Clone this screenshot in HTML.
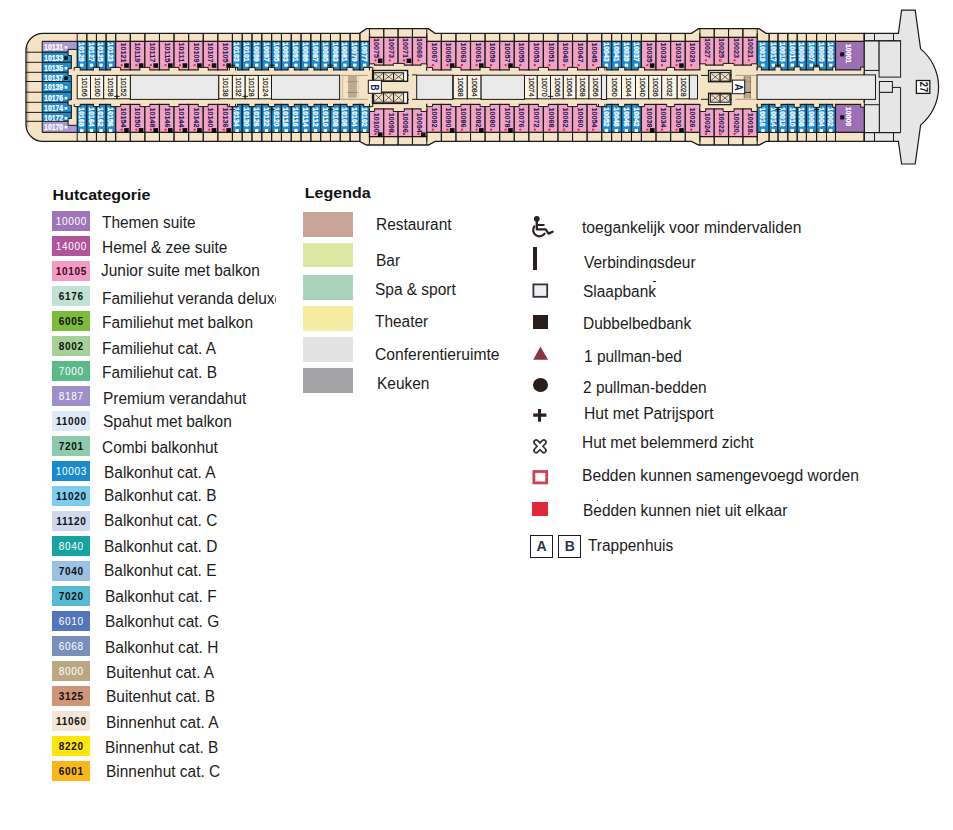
<!DOCTYPE html>
<html><head><meta charset="utf-8"><title>Deck 10</title>
<style>
html,body{margin:0;padding:0;background:#ffffff;}
body{width:953px;height:830px;position:relative;overflow:hidden;font-family:"Liberation Sans", sans-serif;}
</style></head><body>
<svg width="953" height="170" viewBox="0 0 953 170" style="position:absolute;left:0;top:0;font-family:'Liberation Sans',sans-serif"><path d="M 43.0,33.3 L 359.6,33.3 L 366.5,28.6 L 428.5,28.6 L 435,33.3 L 691.5,33.3 L 698.5,28.6 L 759,28.6 L 766,33.3 L 864.3,33.3 L 864.3,141.4 L 766,141.4 L 759,145.0 L 698.5,145.0 L 691.5,141.4 L 435,141.4 L 428.5,145.0 L 366.5,145.0 L 359.6,141.4 L 43.0,141.4 A 17 17 0 0 1 26.0,124.4 L 26.0,50.3 A 17 17 0 0 1 43.0,33.3 Z" fill="#f5e3c6" stroke="#1a1a1a" stroke-width="1.3"/><path d="M 27.8,47.3 L 27.8,127.4" stroke="#7a6a50" stroke-width="0.6"/><path d="M 864.3,33.3 L 898.4,33.3 L 901.6,10.2 L 915.2,10.2 L 920.6,48.9 A 49.3 49.3 0 0 1 920.6,125.1 L 915.2,164 L 901.6,164 L 898.4,141.4 L 864.3,141.4 Z" fill="#e6e6e6" stroke="#1a1a1a" stroke-width="1.2"/><line x1="42.00" y1="41.40" x2="864.30" y2="41.40" stroke="#1a1a1a" stroke-width="1.0"/><line x1="42.00" y1="132.30" x2="864.30" y2="132.30" stroke="#1a1a1a" stroke-width="1.0"/><line x1="77.20" y1="33.30" x2="77.20" y2="41.40" stroke="#1a1a1a" stroke-width="1.0"/><line x1="86.83" y1="33.30" x2="86.83" y2="41.40" stroke="#1a1a1a" stroke-width="1.0"/><line x1="86.83" y1="33.30" x2="86.83" y2="41.40" stroke="#1a1a1a" stroke-width="1.0"/><line x1="96.45" y1="33.30" x2="96.45" y2="41.40" stroke="#1a1a1a" stroke-width="1.0"/><line x1="96.45" y1="33.30" x2="96.45" y2="41.40" stroke="#1a1a1a" stroke-width="1.0"/><line x1="106.08" y1="33.30" x2="106.08" y2="41.40" stroke="#1a1a1a" stroke-width="1.0"/><line x1="106.08" y1="33.30" x2="106.08" y2="41.40" stroke="#1a1a1a" stroke-width="1.0"/><line x1="115.70" y1="33.30" x2="115.70" y2="41.40" stroke="#1a1a1a" stroke-width="1.0"/><line x1="115.70" y1="33.30" x2="115.70" y2="41.40" stroke="#1a1a1a" stroke-width="1.0"/><line x1="130.29" y1="33.30" x2="130.29" y2="41.40" stroke="#1a1a1a" stroke-width="1.0"/><line x1="130.29" y1="33.30" x2="130.29" y2="41.40" stroke="#1a1a1a" stroke-width="1.0"/><line x1="144.88" y1="33.30" x2="144.88" y2="41.40" stroke="#1a1a1a" stroke-width="1.0"/><line x1="144.88" y1="33.30" x2="144.88" y2="41.40" stroke="#1a1a1a" stroke-width="1.0"/><line x1="159.47" y1="33.30" x2="159.47" y2="41.40" stroke="#1a1a1a" stroke-width="1.0"/><line x1="159.47" y1="33.30" x2="159.47" y2="41.40" stroke="#1a1a1a" stroke-width="1.0"/><line x1="174.06" y1="33.30" x2="174.06" y2="41.40" stroke="#1a1a1a" stroke-width="1.0"/><line x1="174.06" y1="33.30" x2="174.06" y2="41.40" stroke="#1a1a1a" stroke-width="1.0"/><line x1="188.65" y1="33.30" x2="188.65" y2="41.40" stroke="#1a1a1a" stroke-width="1.0"/><line x1="188.65" y1="33.30" x2="188.65" y2="41.40" stroke="#1a1a1a" stroke-width="1.0"/><line x1="203.24" y1="33.30" x2="203.24" y2="41.40" stroke="#1a1a1a" stroke-width="1.0"/><line x1="203.24" y1="33.30" x2="203.24" y2="41.40" stroke="#1a1a1a" stroke-width="1.0"/><line x1="217.83" y1="33.30" x2="217.83" y2="41.40" stroke="#1a1a1a" stroke-width="1.0"/><line x1="217.83" y1="33.30" x2="217.83" y2="41.40" stroke="#1a1a1a" stroke-width="1.0"/><line x1="232.42" y1="33.30" x2="232.42" y2="41.40" stroke="#1a1a1a" stroke-width="1.0"/><line x1="232.40" y1="33.30" x2="232.40" y2="41.40" stroke="#1a1a1a" stroke-width="1.0"/><line x1="242.21" y1="33.30" x2="242.21" y2="41.40" stroke="#1a1a1a" stroke-width="1.0"/><line x1="242.21" y1="33.30" x2="242.21" y2="41.40" stroke="#1a1a1a" stroke-width="1.0"/><line x1="252.01" y1="33.30" x2="252.01" y2="41.40" stroke="#1a1a1a" stroke-width="1.0"/><line x1="252.01" y1="33.30" x2="252.01" y2="41.40" stroke="#1a1a1a" stroke-width="1.0"/><line x1="261.82" y1="33.30" x2="261.82" y2="41.40" stroke="#1a1a1a" stroke-width="1.0"/><line x1="261.82" y1="33.30" x2="261.82" y2="41.40" stroke="#1a1a1a" stroke-width="1.0"/><line x1="271.63" y1="33.30" x2="271.63" y2="41.40" stroke="#1a1a1a" stroke-width="1.0"/><line x1="271.63" y1="33.30" x2="271.63" y2="41.40" stroke="#1a1a1a" stroke-width="1.0"/><line x1="281.44" y1="33.30" x2="281.44" y2="41.40" stroke="#1a1a1a" stroke-width="1.0"/><line x1="281.44" y1="33.30" x2="281.44" y2="41.40" stroke="#1a1a1a" stroke-width="1.0"/><line x1="291.24" y1="33.30" x2="291.24" y2="41.40" stroke="#1a1a1a" stroke-width="1.0"/><line x1="291.24" y1="33.30" x2="291.24" y2="41.40" stroke="#1a1a1a" stroke-width="1.0"/><line x1="301.05" y1="33.30" x2="301.05" y2="41.40" stroke="#1a1a1a" stroke-width="1.0"/><line x1="301.05" y1="33.30" x2="301.05" y2="41.40" stroke="#1a1a1a" stroke-width="1.0"/><line x1="310.86" y1="33.30" x2="310.86" y2="41.40" stroke="#1a1a1a" stroke-width="1.0"/><line x1="310.86" y1="33.30" x2="310.86" y2="41.40" stroke="#1a1a1a" stroke-width="1.0"/><line x1="320.66" y1="33.30" x2="320.66" y2="41.40" stroke="#1a1a1a" stroke-width="1.0"/><line x1="320.66" y1="33.30" x2="320.66" y2="41.40" stroke="#1a1a1a" stroke-width="1.0"/><line x1="330.47" y1="33.30" x2="330.47" y2="41.40" stroke="#1a1a1a" stroke-width="1.0"/><line x1="330.47" y1="33.30" x2="330.47" y2="41.40" stroke="#1a1a1a" stroke-width="1.0"/><line x1="340.28" y1="33.30" x2="340.28" y2="41.40" stroke="#1a1a1a" stroke-width="1.0"/><line x1="340.28" y1="33.30" x2="340.28" y2="41.40" stroke="#1a1a1a" stroke-width="1.0"/><line x1="350.08" y1="33.30" x2="350.08" y2="41.40" stroke="#1a1a1a" stroke-width="1.0"/><line x1="350.08" y1="33.30" x2="350.08" y2="41.40" stroke="#1a1a1a" stroke-width="1.0"/><line x1="359.89" y1="33.30" x2="359.89" y2="41.40" stroke="#1a1a1a" stroke-width="1.0"/><line x1="359.89" y1="33.30" x2="359.89" y2="41.40" stroke="#1a1a1a" stroke-width="1.0"/><line x1="369.70" y1="33.30" x2="369.70" y2="41.40" stroke="#1a1a1a" stroke-width="1.0"/><line x1="369.40" y1="28.60" x2="369.40" y2="37.40" stroke="#1a1a1a" stroke-width="1.0"/><line x1="383.75" y1="28.60" x2="383.75" y2="37.40" stroke="#1a1a1a" stroke-width="1.0"/><line x1="383.75" y1="28.60" x2="383.75" y2="37.40" stroke="#1a1a1a" stroke-width="1.0"/><line x1="398.10" y1="28.60" x2="398.10" y2="37.40" stroke="#1a1a1a" stroke-width="1.0"/><line x1="398.10" y1="28.60" x2="398.10" y2="37.40" stroke="#1a1a1a" stroke-width="1.0"/><line x1="412.45" y1="28.60" x2="412.45" y2="37.40" stroke="#1a1a1a" stroke-width="1.0"/><line x1="412.45" y1="28.60" x2="412.45" y2="37.40" stroke="#1a1a1a" stroke-width="1.0"/><line x1="426.80" y1="28.60" x2="426.80" y2="37.40" stroke="#1a1a1a" stroke-width="1.0"/><line x1="426.80" y1="33.30" x2="426.80" y2="41.40" stroke="#1a1a1a" stroke-width="1.0"/><line x1="441.38" y1="33.30" x2="441.38" y2="41.40" stroke="#1a1a1a" stroke-width="1.0"/><line x1="441.38" y1="33.30" x2="441.38" y2="41.40" stroke="#1a1a1a" stroke-width="1.0"/><line x1="455.95" y1="33.30" x2="455.95" y2="41.40" stroke="#1a1a1a" stroke-width="1.0"/><line x1="455.95" y1="33.30" x2="455.95" y2="41.40" stroke="#1a1a1a" stroke-width="1.0"/><line x1="470.52" y1="33.30" x2="470.52" y2="41.40" stroke="#1a1a1a" stroke-width="1.0"/><line x1="470.52" y1="33.30" x2="470.52" y2="41.40" stroke="#1a1a1a" stroke-width="1.0"/><line x1="485.10" y1="33.30" x2="485.10" y2="41.40" stroke="#1a1a1a" stroke-width="1.0"/><line x1="485.10" y1="33.30" x2="485.10" y2="41.40" stroke="#1a1a1a" stroke-width="1.0"/><line x1="499.68" y1="33.30" x2="499.68" y2="41.40" stroke="#1a1a1a" stroke-width="1.0"/><line x1="499.68" y1="33.30" x2="499.68" y2="41.40" stroke="#1a1a1a" stroke-width="1.0"/><line x1="514.25" y1="33.30" x2="514.25" y2="41.40" stroke="#1a1a1a" stroke-width="1.0"/><line x1="514.25" y1="33.30" x2="514.25" y2="41.40" stroke="#1a1a1a" stroke-width="1.0"/><line x1="528.83" y1="33.30" x2="528.83" y2="41.40" stroke="#1a1a1a" stroke-width="1.0"/><line x1="528.83" y1="33.30" x2="528.83" y2="41.40" stroke="#1a1a1a" stroke-width="1.0"/><line x1="543.40" y1="33.30" x2="543.40" y2="41.40" stroke="#1a1a1a" stroke-width="1.0"/><line x1="543.40" y1="33.30" x2="543.40" y2="41.40" stroke="#1a1a1a" stroke-width="1.0"/><line x1="557.98" y1="33.30" x2="557.98" y2="41.40" stroke="#1a1a1a" stroke-width="1.0"/><line x1="557.98" y1="33.30" x2="557.98" y2="41.40" stroke="#1a1a1a" stroke-width="1.0"/><line x1="572.55" y1="33.30" x2="572.55" y2="41.40" stroke="#1a1a1a" stroke-width="1.0"/><line x1="572.55" y1="33.30" x2="572.55" y2="41.40" stroke="#1a1a1a" stroke-width="1.0"/><line x1="587.12" y1="33.30" x2="587.12" y2="41.40" stroke="#1a1a1a" stroke-width="1.0"/><line x1="587.12" y1="33.30" x2="587.12" y2="41.40" stroke="#1a1a1a" stroke-width="1.0"/><line x1="601.70" y1="33.30" x2="601.70" y2="41.40" stroke="#1a1a1a" stroke-width="1.0"/><line x1="601.70" y1="33.30" x2="601.70" y2="41.40" stroke="#1a1a1a" stroke-width="1.0"/><line x1="611.62" y1="33.30" x2="611.62" y2="41.40" stroke="#1a1a1a" stroke-width="1.0"/><line x1="611.62" y1="33.30" x2="611.62" y2="41.40" stroke="#1a1a1a" stroke-width="1.0"/><line x1="621.55" y1="33.30" x2="621.55" y2="41.40" stroke="#1a1a1a" stroke-width="1.0"/><line x1="621.55" y1="33.30" x2="621.55" y2="41.40" stroke="#1a1a1a" stroke-width="1.0"/><line x1="631.48" y1="33.30" x2="631.48" y2="41.40" stroke="#1a1a1a" stroke-width="1.0"/><line x1="631.48" y1="33.30" x2="631.48" y2="41.40" stroke="#1a1a1a" stroke-width="1.0"/><line x1="641.40" y1="33.30" x2="641.40" y2="41.40" stroke="#1a1a1a" stroke-width="1.0"/><line x1="641.40" y1="33.30" x2="641.40" y2="41.40" stroke="#1a1a1a" stroke-width="1.0"/><line x1="656.02" y1="33.30" x2="656.02" y2="41.40" stroke="#1a1a1a" stroke-width="1.0"/><line x1="656.02" y1="33.30" x2="656.02" y2="41.40" stroke="#1a1a1a" stroke-width="1.0"/><line x1="670.65" y1="33.30" x2="670.65" y2="41.40" stroke="#1a1a1a" stroke-width="1.0"/><line x1="670.65" y1="33.30" x2="670.65" y2="41.40" stroke="#1a1a1a" stroke-width="1.0"/><line x1="685.27" y1="33.30" x2="685.27" y2="41.40" stroke="#1a1a1a" stroke-width="1.0"/><line x1="685.27" y1="33.30" x2="685.27" y2="41.40" stroke="#1a1a1a" stroke-width="1.0"/><line x1="699.90" y1="33.30" x2="699.90" y2="41.40" stroke="#1a1a1a" stroke-width="1.0"/><line x1="699.90" y1="28.60" x2="699.90" y2="37.40" stroke="#1a1a1a" stroke-width="1.0"/><line x1="714.23" y1="28.60" x2="714.23" y2="37.40" stroke="#1a1a1a" stroke-width="1.0"/><line x1="714.23" y1="28.60" x2="714.23" y2="37.40" stroke="#1a1a1a" stroke-width="1.0"/><line x1="728.55" y1="28.60" x2="728.55" y2="37.40" stroke="#1a1a1a" stroke-width="1.0"/><line x1="728.55" y1="28.60" x2="728.55" y2="37.40" stroke="#1a1a1a" stroke-width="1.0"/><line x1="742.88" y1="28.60" x2="742.88" y2="37.40" stroke="#1a1a1a" stroke-width="1.0"/><line x1="742.88" y1="28.60" x2="742.88" y2="37.40" stroke="#1a1a1a" stroke-width="1.0"/><line x1="757.20" y1="28.60" x2="757.20" y2="37.40" stroke="#1a1a1a" stroke-width="1.0"/><line x1="757.20" y1="33.30" x2="757.20" y2="41.40" stroke="#1a1a1a" stroke-width="1.0"/><line x1="769.10" y1="33.30" x2="769.10" y2="41.40" stroke="#1a1a1a" stroke-width="1.0"/><line x1="769.10" y1="33.30" x2="769.10" y2="41.40" stroke="#1a1a1a" stroke-width="1.0"/><line x1="778.00" y1="33.30" x2="778.00" y2="41.40" stroke="#1a1a1a" stroke-width="1.0"/><line x1="778.00" y1="33.30" x2="778.00" y2="41.40" stroke="#1a1a1a" stroke-width="1.0"/><line x1="787.80" y1="33.30" x2="787.80" y2="41.40" stroke="#1a1a1a" stroke-width="1.0"/><line x1="787.80" y1="33.30" x2="787.80" y2="41.40" stroke="#1a1a1a" stroke-width="1.0"/><line x1="797.20" y1="33.30" x2="797.20" y2="41.40" stroke="#1a1a1a" stroke-width="1.0"/><line x1="797.20" y1="33.30" x2="797.20" y2="41.40" stroke="#1a1a1a" stroke-width="1.0"/><line x1="806.40" y1="33.30" x2="806.40" y2="41.40" stroke="#1a1a1a" stroke-width="1.0"/><line x1="806.40" y1="33.30" x2="806.40" y2="41.40" stroke="#1a1a1a" stroke-width="1.0"/><line x1="816.60" y1="33.30" x2="816.60" y2="41.40" stroke="#1a1a1a" stroke-width="1.0"/><line x1="816.60" y1="33.30" x2="816.60" y2="41.40" stroke="#1a1a1a" stroke-width="1.0"/><line x1="826.50" y1="33.30" x2="826.50" y2="41.40" stroke="#1a1a1a" stroke-width="1.0"/><line x1="826.50" y1="33.30" x2="826.50" y2="41.40" stroke="#1a1a1a" stroke-width="1.0"/><line x1="835.50" y1="33.30" x2="835.50" y2="41.40" stroke="#1a1a1a" stroke-width="1.0"/><line x1="835.50" y1="33.30" x2="835.50" y2="41.40" stroke="#1a1a1a" stroke-width="1.0"/><line x1="864.30" y1="33.30" x2="864.30" y2="41.40" stroke="#1a1a1a" stroke-width="1.0"/><line x1="77.20" y1="132.30" x2="77.20" y2="141.40" stroke="#1a1a1a" stroke-width="1.0"/><line x1="86.83" y1="132.30" x2="86.83" y2="141.40" stroke="#1a1a1a" stroke-width="1.0"/><line x1="86.83" y1="132.30" x2="86.83" y2="141.40" stroke="#1a1a1a" stroke-width="1.0"/><line x1="96.45" y1="132.30" x2="96.45" y2="141.40" stroke="#1a1a1a" stroke-width="1.0"/><line x1="96.45" y1="132.30" x2="96.45" y2="141.40" stroke="#1a1a1a" stroke-width="1.0"/><line x1="106.08" y1="132.30" x2="106.08" y2="141.40" stroke="#1a1a1a" stroke-width="1.0"/><line x1="106.08" y1="132.30" x2="106.08" y2="141.40" stroke="#1a1a1a" stroke-width="1.0"/><line x1="115.70" y1="132.30" x2="115.70" y2="141.40" stroke="#1a1a1a" stroke-width="1.0"/><line x1="115.70" y1="132.30" x2="115.70" y2="141.40" stroke="#1a1a1a" stroke-width="1.0"/><line x1="130.29" y1="132.30" x2="130.29" y2="141.40" stroke="#1a1a1a" stroke-width="1.0"/><line x1="130.29" y1="132.30" x2="130.29" y2="141.40" stroke="#1a1a1a" stroke-width="1.0"/><line x1="144.88" y1="132.30" x2="144.88" y2="141.40" stroke="#1a1a1a" stroke-width="1.0"/><line x1="144.88" y1="132.30" x2="144.88" y2="141.40" stroke="#1a1a1a" stroke-width="1.0"/><line x1="159.47" y1="132.30" x2="159.47" y2="141.40" stroke="#1a1a1a" stroke-width="1.0"/><line x1="159.47" y1="132.30" x2="159.47" y2="141.40" stroke="#1a1a1a" stroke-width="1.0"/><line x1="174.06" y1="132.30" x2="174.06" y2="141.40" stroke="#1a1a1a" stroke-width="1.0"/><line x1="174.06" y1="132.30" x2="174.06" y2="141.40" stroke="#1a1a1a" stroke-width="1.0"/><line x1="188.65" y1="132.30" x2="188.65" y2="141.40" stroke="#1a1a1a" stroke-width="1.0"/><line x1="188.65" y1="132.30" x2="188.65" y2="141.40" stroke="#1a1a1a" stroke-width="1.0"/><line x1="203.24" y1="132.30" x2="203.24" y2="141.40" stroke="#1a1a1a" stroke-width="1.0"/><line x1="203.24" y1="132.30" x2="203.24" y2="141.40" stroke="#1a1a1a" stroke-width="1.0"/><line x1="217.83" y1="132.30" x2="217.83" y2="141.40" stroke="#1a1a1a" stroke-width="1.0"/><line x1="217.83" y1="132.30" x2="217.83" y2="141.40" stroke="#1a1a1a" stroke-width="1.0"/><line x1="232.42" y1="132.30" x2="232.42" y2="141.40" stroke="#1a1a1a" stroke-width="1.0"/><line x1="232.40" y1="132.30" x2="232.40" y2="141.40" stroke="#1a1a1a" stroke-width="1.0"/><line x1="242.21" y1="132.30" x2="242.21" y2="141.40" stroke="#1a1a1a" stroke-width="1.0"/><line x1="242.21" y1="132.30" x2="242.21" y2="141.40" stroke="#1a1a1a" stroke-width="1.0"/><line x1="252.01" y1="132.30" x2="252.01" y2="141.40" stroke="#1a1a1a" stroke-width="1.0"/><line x1="252.01" y1="132.30" x2="252.01" y2="141.40" stroke="#1a1a1a" stroke-width="1.0"/><line x1="261.82" y1="132.30" x2="261.82" y2="141.40" stroke="#1a1a1a" stroke-width="1.0"/><line x1="261.82" y1="132.30" x2="261.82" y2="141.40" stroke="#1a1a1a" stroke-width="1.0"/><line x1="271.63" y1="132.30" x2="271.63" y2="141.40" stroke="#1a1a1a" stroke-width="1.0"/><line x1="271.63" y1="132.30" x2="271.63" y2="141.40" stroke="#1a1a1a" stroke-width="1.0"/><line x1="281.44" y1="132.30" x2="281.44" y2="141.40" stroke="#1a1a1a" stroke-width="1.0"/><line x1="281.44" y1="132.30" x2="281.44" y2="141.40" stroke="#1a1a1a" stroke-width="1.0"/><line x1="291.24" y1="132.30" x2="291.24" y2="141.40" stroke="#1a1a1a" stroke-width="1.0"/><line x1="291.24" y1="132.30" x2="291.24" y2="141.40" stroke="#1a1a1a" stroke-width="1.0"/><line x1="301.05" y1="132.30" x2="301.05" y2="141.40" stroke="#1a1a1a" stroke-width="1.0"/><line x1="301.05" y1="132.30" x2="301.05" y2="141.40" stroke="#1a1a1a" stroke-width="1.0"/><line x1="310.86" y1="132.30" x2="310.86" y2="141.40" stroke="#1a1a1a" stroke-width="1.0"/><line x1="310.86" y1="132.30" x2="310.86" y2="141.40" stroke="#1a1a1a" stroke-width="1.0"/><line x1="320.66" y1="132.30" x2="320.66" y2="141.40" stroke="#1a1a1a" stroke-width="1.0"/><line x1="320.66" y1="132.30" x2="320.66" y2="141.40" stroke="#1a1a1a" stroke-width="1.0"/><line x1="330.47" y1="132.30" x2="330.47" y2="141.40" stroke="#1a1a1a" stroke-width="1.0"/><line x1="330.47" y1="132.30" x2="330.47" y2="141.40" stroke="#1a1a1a" stroke-width="1.0"/><line x1="340.28" y1="132.30" x2="340.28" y2="141.40" stroke="#1a1a1a" stroke-width="1.0"/><line x1="340.28" y1="132.30" x2="340.28" y2="141.40" stroke="#1a1a1a" stroke-width="1.0"/><line x1="350.08" y1="132.30" x2="350.08" y2="141.40" stroke="#1a1a1a" stroke-width="1.0"/><line x1="350.08" y1="132.30" x2="350.08" y2="141.40" stroke="#1a1a1a" stroke-width="1.0"/><line x1="359.89" y1="132.30" x2="359.89" y2="141.40" stroke="#1a1a1a" stroke-width="1.0"/><line x1="359.89" y1="132.30" x2="359.89" y2="141.40" stroke="#1a1a1a" stroke-width="1.0"/><line x1="369.70" y1="132.30" x2="369.70" y2="141.40" stroke="#1a1a1a" stroke-width="1.0"/><line x1="369.40" y1="136.60" x2="369.40" y2="145.00" stroke="#1a1a1a" stroke-width="1.0"/><line x1="383.75" y1="136.60" x2="383.75" y2="145.00" stroke="#1a1a1a" stroke-width="1.0"/><line x1="383.75" y1="136.60" x2="383.75" y2="145.00" stroke="#1a1a1a" stroke-width="1.0"/><line x1="398.10" y1="136.60" x2="398.10" y2="145.00" stroke="#1a1a1a" stroke-width="1.0"/><line x1="398.10" y1="136.60" x2="398.10" y2="145.00" stroke="#1a1a1a" stroke-width="1.0"/><line x1="412.45" y1="136.60" x2="412.45" y2="145.00" stroke="#1a1a1a" stroke-width="1.0"/><line x1="412.45" y1="136.60" x2="412.45" y2="145.00" stroke="#1a1a1a" stroke-width="1.0"/><line x1="426.80" y1="136.60" x2="426.80" y2="145.00" stroke="#1a1a1a" stroke-width="1.0"/><line x1="426.80" y1="132.30" x2="426.80" y2="141.40" stroke="#1a1a1a" stroke-width="1.0"/><line x1="441.38" y1="132.30" x2="441.38" y2="141.40" stroke="#1a1a1a" stroke-width="1.0"/><line x1="441.38" y1="132.30" x2="441.38" y2="141.40" stroke="#1a1a1a" stroke-width="1.0"/><line x1="455.95" y1="132.30" x2="455.95" y2="141.40" stroke="#1a1a1a" stroke-width="1.0"/><line x1="455.95" y1="132.30" x2="455.95" y2="141.40" stroke="#1a1a1a" stroke-width="1.0"/><line x1="470.52" y1="132.30" x2="470.52" y2="141.40" stroke="#1a1a1a" stroke-width="1.0"/><line x1="470.52" y1="132.30" x2="470.52" y2="141.40" stroke="#1a1a1a" stroke-width="1.0"/><line x1="485.10" y1="132.30" x2="485.10" y2="141.40" stroke="#1a1a1a" stroke-width="1.0"/><line x1="485.10" y1="132.30" x2="485.10" y2="141.40" stroke="#1a1a1a" stroke-width="1.0"/><line x1="499.68" y1="132.30" x2="499.68" y2="141.40" stroke="#1a1a1a" stroke-width="1.0"/><line x1="499.68" y1="132.30" x2="499.68" y2="141.40" stroke="#1a1a1a" stroke-width="1.0"/><line x1="514.25" y1="132.30" x2="514.25" y2="141.40" stroke="#1a1a1a" stroke-width="1.0"/><line x1="514.25" y1="132.30" x2="514.25" y2="141.40" stroke="#1a1a1a" stroke-width="1.0"/><line x1="528.83" y1="132.30" x2="528.83" y2="141.40" stroke="#1a1a1a" stroke-width="1.0"/><line x1="528.83" y1="132.30" x2="528.83" y2="141.40" stroke="#1a1a1a" stroke-width="1.0"/><line x1="543.40" y1="132.30" x2="543.40" y2="141.40" stroke="#1a1a1a" stroke-width="1.0"/><line x1="543.40" y1="132.30" x2="543.40" y2="141.40" stroke="#1a1a1a" stroke-width="1.0"/><line x1="557.98" y1="132.30" x2="557.98" y2="141.40" stroke="#1a1a1a" stroke-width="1.0"/><line x1="557.98" y1="132.30" x2="557.98" y2="141.40" stroke="#1a1a1a" stroke-width="1.0"/><line x1="572.55" y1="132.30" x2="572.55" y2="141.40" stroke="#1a1a1a" stroke-width="1.0"/><line x1="572.55" y1="132.30" x2="572.55" y2="141.40" stroke="#1a1a1a" stroke-width="1.0"/><line x1="587.12" y1="132.30" x2="587.12" y2="141.40" stroke="#1a1a1a" stroke-width="1.0"/><line x1="587.12" y1="132.30" x2="587.12" y2="141.40" stroke="#1a1a1a" stroke-width="1.0"/><line x1="601.70" y1="132.30" x2="601.70" y2="141.40" stroke="#1a1a1a" stroke-width="1.0"/><line x1="601.70" y1="132.30" x2="601.70" y2="141.40" stroke="#1a1a1a" stroke-width="1.0"/><line x1="611.62" y1="132.30" x2="611.62" y2="141.40" stroke="#1a1a1a" stroke-width="1.0"/><line x1="611.62" y1="132.30" x2="611.62" y2="141.40" stroke="#1a1a1a" stroke-width="1.0"/><line x1="621.55" y1="132.30" x2="621.55" y2="141.40" stroke="#1a1a1a" stroke-width="1.0"/><line x1="621.55" y1="132.30" x2="621.55" y2="141.40" stroke="#1a1a1a" stroke-width="1.0"/><line x1="631.48" y1="132.30" x2="631.48" y2="141.40" stroke="#1a1a1a" stroke-width="1.0"/><line x1="631.48" y1="132.30" x2="631.48" y2="141.40" stroke="#1a1a1a" stroke-width="1.0"/><line x1="641.40" y1="132.30" x2="641.40" y2="141.40" stroke="#1a1a1a" stroke-width="1.0"/><line x1="641.40" y1="132.30" x2="641.40" y2="141.40" stroke="#1a1a1a" stroke-width="1.0"/><line x1="656.02" y1="132.30" x2="656.02" y2="141.40" stroke="#1a1a1a" stroke-width="1.0"/><line x1="656.02" y1="132.30" x2="656.02" y2="141.40" stroke="#1a1a1a" stroke-width="1.0"/><line x1="670.65" y1="132.30" x2="670.65" y2="141.40" stroke="#1a1a1a" stroke-width="1.0"/><line x1="670.65" y1="132.30" x2="670.65" y2="141.40" stroke="#1a1a1a" stroke-width="1.0"/><line x1="685.27" y1="132.30" x2="685.27" y2="141.40" stroke="#1a1a1a" stroke-width="1.0"/><line x1="685.27" y1="132.30" x2="685.27" y2="141.40" stroke="#1a1a1a" stroke-width="1.0"/><line x1="699.90" y1="132.30" x2="699.90" y2="141.40" stroke="#1a1a1a" stroke-width="1.0"/><line x1="699.90" y1="136.60" x2="699.90" y2="145.00" stroke="#1a1a1a" stroke-width="1.0"/><line x1="714.23" y1="136.60" x2="714.23" y2="145.00" stroke="#1a1a1a" stroke-width="1.0"/><line x1="714.23" y1="136.60" x2="714.23" y2="145.00" stroke="#1a1a1a" stroke-width="1.0"/><line x1="728.55" y1="136.60" x2="728.55" y2="145.00" stroke="#1a1a1a" stroke-width="1.0"/><line x1="728.55" y1="136.60" x2="728.55" y2="145.00" stroke="#1a1a1a" stroke-width="1.0"/><line x1="742.88" y1="136.60" x2="742.88" y2="145.00" stroke="#1a1a1a" stroke-width="1.0"/><line x1="742.88" y1="136.60" x2="742.88" y2="145.00" stroke="#1a1a1a" stroke-width="1.0"/><line x1="757.20" y1="136.60" x2="757.20" y2="145.00" stroke="#1a1a1a" stroke-width="1.0"/><line x1="757.20" y1="132.30" x2="757.20" y2="141.40" stroke="#1a1a1a" stroke-width="1.0"/><line x1="769.10" y1="132.30" x2="769.10" y2="141.40" stroke="#1a1a1a" stroke-width="1.0"/><line x1="769.10" y1="132.30" x2="769.10" y2="141.40" stroke="#1a1a1a" stroke-width="1.0"/><line x1="778.00" y1="132.30" x2="778.00" y2="141.40" stroke="#1a1a1a" stroke-width="1.0"/><line x1="778.00" y1="132.30" x2="778.00" y2="141.40" stroke="#1a1a1a" stroke-width="1.0"/><line x1="787.80" y1="132.30" x2="787.80" y2="141.40" stroke="#1a1a1a" stroke-width="1.0"/><line x1="787.80" y1="132.30" x2="787.80" y2="141.40" stroke="#1a1a1a" stroke-width="1.0"/><line x1="797.20" y1="132.30" x2="797.20" y2="141.40" stroke="#1a1a1a" stroke-width="1.0"/><line x1="797.20" y1="132.30" x2="797.20" y2="141.40" stroke="#1a1a1a" stroke-width="1.0"/><line x1="806.40" y1="132.30" x2="806.40" y2="141.40" stroke="#1a1a1a" stroke-width="1.0"/><line x1="806.40" y1="132.30" x2="806.40" y2="141.40" stroke="#1a1a1a" stroke-width="1.0"/><line x1="816.60" y1="132.30" x2="816.60" y2="141.40" stroke="#1a1a1a" stroke-width="1.0"/><line x1="816.60" y1="132.30" x2="816.60" y2="141.40" stroke="#1a1a1a" stroke-width="1.0"/><line x1="826.50" y1="132.30" x2="826.50" y2="141.40" stroke="#1a1a1a" stroke-width="1.0"/><line x1="826.50" y1="132.30" x2="826.50" y2="141.40" stroke="#1a1a1a" stroke-width="1.0"/><line x1="835.50" y1="132.30" x2="835.50" y2="141.40" stroke="#1a1a1a" stroke-width="1.0"/><line x1="835.50" y1="132.30" x2="835.50" y2="141.40" stroke="#1a1a1a" stroke-width="1.0"/><line x1="864.30" y1="132.30" x2="864.30" y2="141.40" stroke="#1a1a1a" stroke-width="1.0"/><line x1="369.40" y1="37.40" x2="426.80" y2="37.40" stroke="#1a1a1a" stroke-width="1.0"/><line x1="699.90" y1="37.40" x2="757.20" y2="37.40" stroke="#1a1a1a" stroke-width="1.0"/><line x1="369.40" y1="136.60" x2="426.80" y2="136.60" stroke="#1a1a1a" stroke-width="1.0"/><line x1="699.90" y1="136.60" x2="757.20" y2="136.60" stroke="#1a1a1a" stroke-width="1.0"/><rect x="77.20" y="41.40" width="9.62" height="28.50" fill="#1b8bcc" stroke="#1a1a1a" stroke-width="1.2" /><text transform="translate(81.81,42.30) rotate(90) scale(1.12,1)" x="0" y="0" dy="0.355em" textLength="17.32" lengthAdjust="spacingAndGlyphs" font-size="7.5" font-weight="bold" fill="#ffffff" stroke="#ffffff" stroke-width="0.3">10129</text><rect x="80.11" y="63.60" width="3.40" height="3.10" fill="#f4f8ff"/><rect x="86.83" y="41.40" width="9.62" height="28.50" fill="#1b8bcc" stroke="#1a1a1a" stroke-width="1.2" /><text transform="translate(91.44,42.30) rotate(90) scale(1.12,1)" x="0" y="0" dy="0.355em" textLength="17.32" lengthAdjust="spacingAndGlyphs" font-size="7.5" font-weight="bold" fill="#ffffff" stroke="#ffffff" stroke-width="0.3">10127</text><rect x="89.74" y="63.60" width="3.40" height="3.10" fill="#f4f8ff"/><rect x="96.45" y="41.40" width="9.62" height="28.50" fill="#1b8bcc" stroke="#1a1a1a" stroke-width="1.2" /><text transform="translate(101.06,42.30) rotate(90) scale(1.12,1)" x="0" y="0" dy="0.355em" textLength="17.32" lengthAdjust="spacingAndGlyphs" font-size="7.5" font-weight="bold" fill="#ffffff" stroke="#ffffff" stroke-width="0.3">10125</text><rect x="99.36" y="63.60" width="3.40" height="3.10" fill="#f4f8ff"/><rect x="106.08" y="41.40" width="9.62" height="28.50" fill="#1b8bcc" stroke="#1a1a1a" stroke-width="1.2" /><text transform="translate(110.69,42.30) rotate(90) scale(1.12,1)" x="0" y="0" dy="0.355em" textLength="17.32" lengthAdjust="spacingAndGlyphs" font-size="7.5" font-weight="bold" fill="#ffffff" stroke="#ffffff" stroke-width="0.3">10123</text><rect x="108.99" y="63.60" width="3.40" height="3.10" fill="#f4f8ff"/><rect x="115.70" y="41.40" width="14.59" height="28.50" fill="#f1a3c6" stroke="#1a1a1a" stroke-width="1.2" /><text transform="translate(123.40,42.40) rotate(90) scale(1.12,1)" x="0" y="0" dy="0.355em" textLength="17.86" lengthAdjust="spacingAndGlyphs" font-size="7.2" font-weight="bold" fill="#2a1a55" stroke="#2a1a55" stroke-width="0.12">10121</text><rect x="120.70" y="64.20" width="2.00" height="1.90" fill="#e0202c"/><rect x="124.20" y="63.30" width="4.60" height="4.50" fill="#0a0a0a"/><rect x="130.29" y="41.40" width="14.59" height="28.50" fill="#f1a3c6" stroke="#1a1a1a" stroke-width="1.2" /><text transform="translate(137.98,42.40) rotate(90) scale(1.12,1)" x="0" y="0" dy="0.355em" textLength="17.86" lengthAdjust="spacingAndGlyphs" font-size="7.2" font-weight="bold" fill="#2a1a55" stroke="#2a1a55" stroke-width="0.12">10119</text><rect x="135.29" y="64.20" width="2.00" height="1.90" fill="#e0202c"/><rect x="138.79" y="63.30" width="4.60" height="4.50" fill="#0a0a0a"/><rect x="144.88" y="41.40" width="14.59" height="28.50" fill="#f1a3c6" stroke="#1a1a1a" stroke-width="1.2" /><text transform="translate(152.58,42.40) rotate(90) scale(1.12,1)" x="0" y="0" dy="0.355em" textLength="17.86" lengthAdjust="spacingAndGlyphs" font-size="7.2" font-weight="bold" fill="#2a1a55" stroke="#2a1a55" stroke-width="0.12">10117</text><rect x="149.88" y="64.20" width="2.00" height="1.90" fill="#e0202c"/><rect x="153.38" y="63.30" width="4.60" height="4.50" fill="#0a0a0a"/><rect x="159.47" y="41.40" width="14.59" height="28.50" fill="#f1a3c6" stroke="#1a1a1a" stroke-width="1.2" /><text transform="translate(167.16,42.40) rotate(90) scale(1.12,1)" x="0" y="0" dy="0.355em" textLength="17.86" lengthAdjust="spacingAndGlyphs" font-size="7.2" font-weight="bold" fill="#2a1a55" stroke="#2a1a55" stroke-width="0.12">10115</text><rect x="164.47" y="64.20" width="2.00" height="1.90" fill="#e0202c"/><rect x="167.97" y="63.30" width="4.60" height="4.50" fill="#0a0a0a"/><rect x="174.06" y="41.40" width="14.59" height="28.50" fill="#f1a3c6" stroke="#1a1a1a" stroke-width="1.2" /><text transform="translate(181.76,42.40) rotate(90) scale(1.12,1)" x="0" y="0" dy="0.355em" textLength="17.86" lengthAdjust="spacingAndGlyphs" font-size="7.2" font-weight="bold" fill="#2a1a55" stroke="#2a1a55" stroke-width="0.12">10111</text><rect x="179.06" y="64.20" width="2.00" height="1.90" fill="#e0202c"/><rect x="182.56" y="63.30" width="4.60" height="4.50" fill="#0a0a0a"/><rect x="188.65" y="41.40" width="14.59" height="28.50" fill="#f1a3c6" stroke="#1a1a1a" stroke-width="1.2" /><text transform="translate(196.34,42.40) rotate(90) scale(1.12,1)" x="0" y="0" dy="0.355em" textLength="17.86" lengthAdjust="spacingAndGlyphs" font-size="7.2" font-weight="bold" fill="#2a1a55" stroke="#2a1a55" stroke-width="0.12">10109</text><rect x="193.65" y="64.20" width="2.00" height="1.90" fill="#e0202c"/><rect x="197.15" y="63.30" width="4.60" height="4.50" fill="#0a0a0a"/><rect x="203.24" y="41.40" width="14.59" height="28.50" fill="#f1a3c6" stroke="#1a1a1a" stroke-width="1.2" /><text transform="translate(210.94,42.40) rotate(90) scale(1.12,1)" x="0" y="0" dy="0.355em" textLength="17.86" lengthAdjust="spacingAndGlyphs" font-size="7.2" font-weight="bold" fill="#2a1a55" stroke="#2a1a55" stroke-width="0.12">10107</text><rect x="208.24" y="64.20" width="2.00" height="1.90" fill="#e0202c"/><rect x="211.74" y="63.30" width="4.60" height="4.50" fill="#0a0a0a"/><rect x="217.83" y="41.40" width="14.59" height="28.50" fill="#f1a3c6" stroke="#1a1a1a" stroke-width="1.2" /><text transform="translate(225.53,42.40) rotate(90) scale(1.12,1)" x="0" y="0" dy="0.355em" textLength="17.86" lengthAdjust="spacingAndGlyphs" font-size="7.2" font-weight="bold" fill="#2a1a55" stroke="#2a1a55" stroke-width="0.12">10105</text><rect x="222.83" y="64.20" width="2.00" height="1.90" fill="#e0202c"/><rect x="226.33" y="63.30" width="4.60" height="4.50" fill="#0a0a0a"/><rect x="232.40" y="41.40" width="9.81" height="28.50" fill="#1b8bcc" stroke="#1a1a1a" stroke-width="1.2" /><text transform="translate(237.10,42.30) rotate(90) scale(1.12,1)" x="0" y="0" dy="0.355em" textLength="17.32" lengthAdjust="spacingAndGlyphs" font-size="7.5" font-weight="bold" fill="#ffffff" stroke="#ffffff" stroke-width="0.3">10103</text><rect x="235.40" y="63.60" width="3.40" height="3.10" fill="#f4f8ff"/><rect x="242.21" y="41.40" width="9.81" height="28.50" fill="#1b8bcc" stroke="#1a1a1a" stroke-width="1.2" /><text transform="translate(246.91,42.30) rotate(90) scale(1.12,1)" x="0" y="0" dy="0.355em" textLength="17.32" lengthAdjust="spacingAndGlyphs" font-size="7.5" font-weight="bold" fill="#ffffff" stroke="#ffffff" stroke-width="0.3">10101</text><rect x="245.21" y="63.60" width="3.40" height="3.10" fill="#f4f8ff"/><rect x="252.01" y="41.40" width="9.81" height="28.50" fill="#1b8bcc" stroke="#1a1a1a" stroke-width="1.2" /><text transform="translate(256.72,42.30) rotate(90) scale(1.12,1)" x="0" y="0" dy="0.355em" textLength="17.32" lengthAdjust="spacingAndGlyphs" font-size="7.5" font-weight="bold" fill="#ffffff" stroke="#ffffff" stroke-width="0.3">10099</text><rect x="255.02" y="63.60" width="3.40" height="3.10" fill="#f4f8ff"/><rect x="261.82" y="41.40" width="9.81" height="28.50" fill="#1b8bcc" stroke="#1a1a1a" stroke-width="1.2" /><text transform="translate(266.52,42.30) rotate(90) scale(1.12,1)" x="0" y="0" dy="0.355em" textLength="17.32" lengthAdjust="spacingAndGlyphs" font-size="7.5" font-weight="bold" fill="#ffffff" stroke="#ffffff" stroke-width="0.3">10097</text><rect x="264.82" y="63.60" width="3.40" height="3.10" fill="#f4f8ff"/><rect x="271.63" y="41.40" width="9.81" height="28.50" fill="#1b8bcc" stroke="#1a1a1a" stroke-width="1.2" /><text transform="translate(276.33,42.30) rotate(90) scale(1.12,1)" x="0" y="0" dy="0.355em" textLength="17.32" lengthAdjust="spacingAndGlyphs" font-size="7.5" font-weight="bold" fill="#ffffff" stroke="#ffffff" stroke-width="0.3">10095</text><rect x="274.63" y="63.60" width="3.40" height="3.10" fill="#f4f8ff"/><rect x="281.44" y="41.40" width="9.81" height="28.50" fill="#1b8bcc" stroke="#1a1a1a" stroke-width="1.2" /><text transform="translate(286.14,42.30) rotate(90) scale(1.12,1)" x="0" y="0" dy="0.355em" textLength="17.32" lengthAdjust="spacingAndGlyphs" font-size="7.5" font-weight="bold" fill="#ffffff" stroke="#ffffff" stroke-width="0.3">10093</text><rect x="284.44" y="63.60" width="3.40" height="3.10" fill="#f4f8ff"/><rect x="291.24" y="41.40" width="9.81" height="28.50" fill="#1b8bcc" stroke="#1a1a1a" stroke-width="1.2" /><text transform="translate(295.95,42.30) rotate(90) scale(1.12,1)" x="0" y="0" dy="0.355em" textLength="17.32" lengthAdjust="spacingAndGlyphs" font-size="7.5" font-weight="bold" fill="#ffffff" stroke="#ffffff" stroke-width="0.3">10091</text><rect x="294.25" y="63.60" width="3.40" height="3.10" fill="#f4f8ff"/><rect x="301.05" y="41.40" width="9.81" height="28.50" fill="#1b8bcc" stroke="#1a1a1a" stroke-width="1.2" /><text transform="translate(305.75,42.30) rotate(90) scale(1.12,1)" x="0" y="0" dy="0.355em" textLength="17.32" lengthAdjust="spacingAndGlyphs" font-size="7.5" font-weight="bold" fill="#ffffff" stroke="#ffffff" stroke-width="0.3">10089</text><rect x="304.05" y="63.60" width="3.40" height="3.10" fill="#f4f8ff"/><rect x="310.86" y="41.40" width="9.81" height="28.50" fill="#1b8bcc" stroke="#1a1a1a" stroke-width="1.2" /><text transform="translate(315.56,42.30) rotate(90) scale(1.12,1)" x="0" y="0" dy="0.355em" textLength="17.32" lengthAdjust="spacingAndGlyphs" font-size="7.5" font-weight="bold" fill="#ffffff" stroke="#ffffff" stroke-width="0.3">10087</text><rect x="313.86" y="63.60" width="3.40" height="3.10" fill="#f4f8ff"/><rect x="320.66" y="41.40" width="9.81" height="28.50" fill="#1b8bcc" stroke="#1a1a1a" stroke-width="1.2" /><text transform="translate(325.37,42.30) rotate(90) scale(1.12,1)" x="0" y="0" dy="0.355em" textLength="17.32" lengthAdjust="spacingAndGlyphs" font-size="7.5" font-weight="bold" fill="#ffffff" stroke="#ffffff" stroke-width="0.3">10085</text><rect x="323.67" y="63.60" width="3.40" height="3.10" fill="#f4f8ff"/><rect x="330.47" y="41.40" width="9.81" height="28.50" fill="#1b8bcc" stroke="#1a1a1a" stroke-width="1.2" /><text transform="translate(335.17,42.30) rotate(90) scale(1.12,1)" x="0" y="0" dy="0.355em" textLength="17.32" lengthAdjust="spacingAndGlyphs" font-size="7.5" font-weight="bold" fill="#ffffff" stroke="#ffffff" stroke-width="0.3">10083</text><rect x="333.47" y="63.60" width="3.40" height="3.10" fill="#f4f8ff"/><rect x="340.28" y="41.40" width="9.81" height="28.50" fill="#1b8bcc" stroke="#1a1a1a" stroke-width="1.2" /><text transform="translate(344.98,42.30) rotate(90) scale(1.12,1)" x="0" y="0" dy="0.355em" textLength="17.32" lengthAdjust="spacingAndGlyphs" font-size="7.5" font-weight="bold" fill="#ffffff" stroke="#ffffff" stroke-width="0.3">10081</text><rect x="343.28" y="63.60" width="3.40" height="3.10" fill="#f4f8ff"/><rect x="350.08" y="41.40" width="9.81" height="28.50" fill="#1b8bcc" stroke="#1a1a1a" stroke-width="1.2" /><text transform="translate(354.79,42.30) rotate(90) scale(1.12,1)" x="0" y="0" dy="0.355em" textLength="17.32" lengthAdjust="spacingAndGlyphs" font-size="7.5" font-weight="bold" fill="#ffffff" stroke="#ffffff" stroke-width="0.3">10079</text><rect x="353.09" y="63.60" width="3.40" height="3.10" fill="#f4f8ff"/><rect x="359.89" y="41.40" width="9.81" height="28.50" fill="#1b8bcc" stroke="#1a1a1a" stroke-width="1.2" /><text transform="translate(364.59,42.30) rotate(90) scale(1.12,1)" x="0" y="0" dy="0.355em" textLength="17.32" lengthAdjust="spacingAndGlyphs" font-size="7.5" font-weight="bold" fill="#ffffff" stroke="#ffffff" stroke-width="0.3">10077</text><rect x="362.89" y="63.60" width="3.40" height="3.10" fill="#f4f8ff"/><rect x="369.40" y="37.40" width="14.35" height="27.70" fill="#f1a3c6" stroke="#1a1a1a" stroke-width="1.2" /><text transform="translate(376.97,38.00) rotate(90) scale(1.12,1)" x="0" y="0" dy="0.355em" textLength="17.86" lengthAdjust="spacingAndGlyphs" font-size="7.2" font-weight="bold" fill="#2a1a55" stroke="#2a1a55" stroke-width="0.12">10075</text><rect x="374.40" y="59.40" width="2.00" height="1.90" fill="#e0202c"/><rect x="377.90" y="58.50" width="4.60" height="4.50" fill="#0a0a0a"/><rect x="383.75" y="37.40" width="14.35" height="27.70" fill="#f1a3c6" stroke="#1a1a1a" stroke-width="1.2" /><text transform="translate(391.32,38.00) rotate(90) scale(1.12,1)" x="0" y="0" dy="0.355em" textLength="17.86" lengthAdjust="spacingAndGlyphs" font-size="7.2" font-weight="bold" fill="#2a1a55" stroke="#2a1a55" stroke-width="0.12">10073</text><rect x="388.75" y="59.40" width="2.00" height="1.90" fill="#e0202c"/><rect x="398.10" y="37.40" width="14.35" height="27.70" fill="#f1a3c6" stroke="#1a1a1a" stroke-width="1.2" /><text transform="translate(405.67,38.00) rotate(90) scale(1.12,1)" x="0" y="0" dy="0.355em" textLength="17.86" lengthAdjust="spacingAndGlyphs" font-size="7.2" font-weight="bold" fill="#2a1a55" stroke="#2a1a55" stroke-width="0.12">10071</text><rect x="403.10" y="59.40" width="2.00" height="1.90" fill="#e0202c"/><rect x="406.60" y="58.50" width="4.60" height="4.50" fill="#0a0a0a"/><rect x="412.45" y="37.40" width="14.35" height="27.70" fill="#f1a3c6" stroke="#1a1a1a" stroke-width="1.2" /><text transform="translate(420.02,38.00) rotate(90) scale(1.12,1)" x="0" y="0" dy="0.355em" textLength="17.86" lengthAdjust="spacingAndGlyphs" font-size="7.2" font-weight="bold" fill="#2a1a55" stroke="#2a1a55" stroke-width="0.12">10069</text><rect x="417.45" y="59.40" width="2.00" height="1.90" fill="#e0202c"/><rect x="426.80" y="41.40" width="14.57" height="28.50" fill="#f1a3c6" stroke="#1a1a1a" stroke-width="1.2" /><text transform="translate(434.49,42.40) rotate(90) scale(1.12,1)" x="0" y="0" dy="0.355em" textLength="17.86" lengthAdjust="spacingAndGlyphs" font-size="7.2" font-weight="bold" fill="#2a1a55" stroke="#2a1a55" stroke-width="0.12">10067</text><rect x="431.80" y="64.20" width="2.00" height="1.90" fill="#e0202c"/><rect x="441.38" y="41.40" width="14.57" height="28.50" fill="#f1a3c6" stroke="#1a1a1a" stroke-width="1.2" /><text transform="translate(449.06,42.40) rotate(90) scale(1.12,1)" x="0" y="0" dy="0.355em" textLength="17.86" lengthAdjust="spacingAndGlyphs" font-size="7.2" font-weight="bold" fill="#2a1a55" stroke="#2a1a55" stroke-width="0.12">10065</text><rect x="446.38" y="64.20" width="2.00" height="1.90" fill="#e0202c"/><rect x="449.88" y="63.30" width="4.60" height="4.50" fill="#0a0a0a"/><rect x="455.95" y="41.40" width="14.57" height="28.50" fill="#f1a3c6" stroke="#1a1a1a" stroke-width="1.2" /><text transform="translate(463.64,42.40) rotate(90) scale(1.12,1)" x="0" y="0" dy="0.355em" textLength="17.86" lengthAdjust="spacingAndGlyphs" font-size="7.2" font-weight="bold" fill="#2a1a55" stroke="#2a1a55" stroke-width="0.12">10063</text><rect x="460.95" y="64.20" width="2.00" height="1.90" fill="#e0202c"/><rect x="470.52" y="41.40" width="14.58" height="28.50" fill="#f1a3c6" stroke="#1a1a1a" stroke-width="1.2" /><text transform="translate(478.21,42.40) rotate(90) scale(1.12,1)" x="0" y="0" dy="0.355em" textLength="17.86" lengthAdjust="spacingAndGlyphs" font-size="7.2" font-weight="bold" fill="#2a1a55" stroke="#2a1a55" stroke-width="0.12">10061</text><rect x="475.52" y="64.20" width="2.00" height="1.90" fill="#e0202c"/><rect x="479.02" y="63.30" width="4.60" height="4.50" fill="#0a0a0a"/><rect x="485.10" y="41.40" width="14.57" height="28.50" fill="#f1a3c6" stroke="#1a1a1a" stroke-width="1.2" /><text transform="translate(492.79,42.40) rotate(90) scale(1.12,1)" x="0" y="0" dy="0.355em" textLength="17.86" lengthAdjust="spacingAndGlyphs" font-size="7.2" font-weight="bold" fill="#2a1a55" stroke="#2a1a55" stroke-width="0.12">10059</text><rect x="490.10" y="64.20" width="2.00" height="1.90" fill="#e0202c"/><rect x="499.68" y="41.40" width="14.57" height="28.50" fill="#f1a3c6" stroke="#1a1a1a" stroke-width="1.2" /><text transform="translate(507.36,42.40) rotate(90) scale(1.12,1)" x="0" y="0" dy="0.355em" textLength="17.86" lengthAdjust="spacingAndGlyphs" font-size="7.2" font-weight="bold" fill="#2a1a55" stroke="#2a1a55" stroke-width="0.12">10057</text><rect x="504.68" y="64.20" width="2.00" height="1.90" fill="#e0202c"/><rect x="508.18" y="63.30" width="4.60" height="4.50" fill="#0a0a0a"/><rect x="514.25" y="41.40" width="14.58" height="28.50" fill="#f1a3c6" stroke="#1a1a1a" stroke-width="1.2" /><text transform="translate(521.94,42.40) rotate(90) scale(1.12,1)" x="0" y="0" dy="0.355em" textLength="17.86" lengthAdjust="spacingAndGlyphs" font-size="7.2" font-weight="bold" fill="#2a1a55" stroke="#2a1a55" stroke-width="0.12">10055</text><rect x="519.25" y="64.20" width="2.00" height="1.90" fill="#e0202c"/><rect x="528.83" y="41.40" width="14.57" height="28.50" fill="#f1a3c6" stroke="#1a1a1a" stroke-width="1.2" /><text transform="translate(536.51,42.40) rotate(90) scale(1.12,1)" x="0" y="0" dy="0.355em" textLength="17.86" lengthAdjust="spacingAndGlyphs" font-size="7.2" font-weight="bold" fill="#2a1a55" stroke="#2a1a55" stroke-width="0.12">10053</text><rect x="533.83" y="64.20" width="2.00" height="1.90" fill="#e0202c"/><rect x="543.40" y="41.40" width="14.58" height="28.50" fill="#f1a3c6" stroke="#1a1a1a" stroke-width="1.2" /><text transform="translate(551.09,42.40) rotate(90) scale(1.12,1)" x="0" y="0" dy="0.355em" textLength="17.86" lengthAdjust="spacingAndGlyphs" font-size="7.2" font-weight="bold" fill="#2a1a55" stroke="#2a1a55" stroke-width="0.12">10051</text><rect x="548.40" y="64.20" width="2.00" height="1.90" fill="#e0202c"/><rect x="557.98" y="41.40" width="14.57" height="28.50" fill="#f1a3c6" stroke="#1a1a1a" stroke-width="1.2" /><text transform="translate(565.66,42.40) rotate(90) scale(1.12,1)" x="0" y="0" dy="0.355em" textLength="17.86" lengthAdjust="spacingAndGlyphs" font-size="7.2" font-weight="bold" fill="#2a1a55" stroke="#2a1a55" stroke-width="0.12">10049</text><rect x="563.18" y="64.40" width="1.70" height="1.70" fill="none" stroke="#e0202c" stroke-width="0.7" /><rect x="572.55" y="41.40" width="14.58" height="28.50" fill="#f1a3c6" stroke="#1a1a1a" stroke-width="1.2" /><text transform="translate(580.24,42.40) rotate(90) scale(1.12,1)" x="0" y="0" dy="0.355em" textLength="17.86" lengthAdjust="spacingAndGlyphs" font-size="7.2" font-weight="bold" fill="#2a1a55" stroke="#2a1a55" stroke-width="0.12">10047</text><rect x="577.55" y="64.20" width="2.00" height="1.90" fill="#e0202c"/><rect x="587.12" y="41.40" width="14.58" height="28.50" fill="#f1a3c6" stroke="#1a1a1a" stroke-width="1.2" /><text transform="translate(594.81,42.40) rotate(90) scale(1.12,1)" x="0" y="0" dy="0.355em" textLength="17.86" lengthAdjust="spacingAndGlyphs" font-size="7.2" font-weight="bold" fill="#2a1a55" stroke="#2a1a55" stroke-width="0.12">10045</text><rect x="592.12" y="64.20" width="2.00" height="1.90" fill="#e0202c"/><rect x="601.70" y="41.40" width="9.92" height="28.50" fill="#1b8bcc" stroke="#1a1a1a" stroke-width="1.2" /><text transform="translate(606.46,42.30) rotate(90) scale(1.12,1)" x="0" y="0" dy="0.355em" textLength="17.32" lengthAdjust="spacingAndGlyphs" font-size="7.5" font-weight="bold" fill="#ffffff" stroke="#ffffff" stroke-width="0.3">10043</text><rect x="604.76" y="63.60" width="3.40" height="3.10" fill="#f4f8ff"/><rect x="611.62" y="41.40" width="9.93" height="28.50" fill="#1b8bcc" stroke="#1a1a1a" stroke-width="1.2" /><text transform="translate(616.39,42.30) rotate(90) scale(1.12,1)" x="0" y="0" dy="0.355em" textLength="17.32" lengthAdjust="spacingAndGlyphs" font-size="7.5" font-weight="bold" fill="#ffffff" stroke="#ffffff" stroke-width="0.3">10041</text><rect x="614.69" y="63.60" width="3.40" height="3.10" fill="#f4f8ff"/><rect x="621.55" y="41.40" width="9.92" height="28.50" fill="#1b8bcc" stroke="#1a1a1a" stroke-width="1.2" /><text transform="translate(626.31,42.30) rotate(90) scale(1.12,1)" x="0" y="0" dy="0.355em" textLength="17.32" lengthAdjust="spacingAndGlyphs" font-size="7.5" font-weight="bold" fill="#ffffff" stroke="#ffffff" stroke-width="0.3">10039</text><rect x="624.61" y="63.60" width="3.40" height="3.10" fill="#f4f8ff"/><rect x="631.48" y="41.40" width="9.93" height="28.50" fill="#1b8bcc" stroke="#1a1a1a" stroke-width="1.2" /><text transform="translate(636.24,42.30) rotate(90) scale(1.12,1)" x="0" y="0" dy="0.355em" textLength="17.32" lengthAdjust="spacingAndGlyphs" font-size="7.5" font-weight="bold" fill="#ffffff" stroke="#ffffff" stroke-width="0.3">10037</text><rect x="634.54" y="63.60" width="3.40" height="3.10" fill="#f4f8ff"/><rect x="641.40" y="41.40" width="14.62" height="28.50" fill="#f1a3c6" stroke="#1a1a1a" stroke-width="1.2" /><text transform="translate(649.11,42.40) rotate(90) scale(1.12,1)" x="0" y="0" dy="0.355em" textLength="17.86" lengthAdjust="spacingAndGlyphs" font-size="7.2" font-weight="bold" fill="#2a1a55" stroke="#2a1a55" stroke-width="0.12">10035</text><rect x="646.40" y="64.20" width="2.00" height="1.90" fill="#e0202c"/><rect x="649.90" y="63.30" width="4.60" height="4.50" fill="#0a0a0a"/><rect x="656.02" y="41.40" width="14.62" height="28.50" fill="#f1a3c6" stroke="#1a1a1a" stroke-width="1.2" /><text transform="translate(663.74,42.40) rotate(90) scale(1.12,1)" x="0" y="0" dy="0.355em" textLength="17.86" lengthAdjust="spacingAndGlyphs" font-size="7.2" font-weight="bold" fill="#2a1a55" stroke="#2a1a55" stroke-width="0.12">10033</text><rect x="661.02" y="64.20" width="2.00" height="1.90" fill="#e0202c"/><rect x="670.65" y="41.40" width="14.62" height="28.50" fill="#f1a3c6" stroke="#1a1a1a" stroke-width="1.2" /><text transform="translate(678.36,42.40) rotate(90) scale(1.12,1)" x="0" y="0" dy="0.355em" textLength="17.86" lengthAdjust="spacingAndGlyphs" font-size="7.2" font-weight="bold" fill="#2a1a55" stroke="#2a1a55" stroke-width="0.12">10031</text><rect x="675.65" y="64.20" width="2.00" height="1.90" fill="#e0202c"/><rect x="679.15" y="63.30" width="4.60" height="4.50" fill="#0a0a0a"/><rect x="685.27" y="41.40" width="14.62" height="28.50" fill="#f1a3c6" stroke="#1a1a1a" stroke-width="1.2" /><text transform="translate(692.99,42.40) rotate(90) scale(1.12,1)" x="0" y="0" dy="0.355em" textLength="17.86" lengthAdjust="spacingAndGlyphs" font-size="7.2" font-weight="bold" fill="#2a1a55" stroke="#2a1a55" stroke-width="0.12">10029</text><rect x="690.27" y="64.20" width="2.00" height="1.90" fill="#e0202c"/><rect x="699.90" y="37.40" width="14.33" height="27.70" fill="#f1a3c6" stroke="#1a1a1a" stroke-width="1.2" /><text transform="translate(707.46,38.00) rotate(90) scale(1.12,1)" x="0" y="0" dy="0.355em" textLength="17.86" lengthAdjust="spacingAndGlyphs" font-size="7.2" font-weight="bold" fill="#2a1a55" stroke="#2a1a55" stroke-width="0.12">10027</text><rect x="704.90" y="59.40" width="2.00" height="1.90" fill="#e0202c"/><rect x="714.23" y="37.40" width="14.32" height="27.70" fill="#f1a3c6" stroke="#1a1a1a" stroke-width="1.2" /><text transform="translate(721.79,38.00) rotate(90) scale(1.12,1)" x="0" y="0" dy="0.355em" textLength="17.86" lengthAdjust="spacingAndGlyphs" font-size="7.2" font-weight="bold" fill="#2a1a55" stroke="#2a1a55" stroke-width="0.12">10025</text><rect x="719.43" y="59.60" width="1.70" height="1.70" fill="none" stroke="#e0202c" stroke-width="0.7" /><rect x="728.55" y="37.40" width="14.33" height="27.70" fill="#f1a3c6" stroke="#1a1a1a" stroke-width="1.2" /><text transform="translate(736.11,38.00) rotate(90) scale(1.12,1)" x="0" y="0" dy="0.355em" textLength="17.86" lengthAdjust="spacingAndGlyphs" font-size="7.2" font-weight="bold" fill="#2a1a55" stroke="#2a1a55" stroke-width="0.12">10023</text><rect x="733.55" y="59.40" width="2.00" height="1.90" fill="#e0202c"/><rect x="742.88" y="37.40" width="14.32" height="27.70" fill="#f1a3c6" stroke="#1a1a1a" stroke-width="1.2" /><text transform="translate(750.44,38.00) rotate(90) scale(1.12,1)" x="0" y="0" dy="0.355em" textLength="17.86" lengthAdjust="spacingAndGlyphs" font-size="7.2" font-weight="bold" fill="#2a1a55" stroke="#2a1a55" stroke-width="0.12">10021</text><rect x="747.88" y="59.40" width="2.00" height="1.90" fill="#e0202c"/><rect x="757.20" y="41.40" width="11.90" height="28.50" fill="#1b8bcc" stroke="#1a1a1a" stroke-width="1.2" /><text transform="translate(762.95,42.30) rotate(90) scale(1.12,1)" x="0" y="0" dy="0.355em" textLength="17.32" lengthAdjust="spacingAndGlyphs" font-size="7.5" font-weight="bold" fill="#ffffff" stroke="#ffffff" stroke-width="0.3">10019</text><rect x="761.25" y="63.60" width="3.40" height="3.10" fill="#f4f8ff"/><rect x="769.10" y="41.40" width="8.90" height="28.50" fill="#1b8bcc" stroke="#1a1a1a" stroke-width="1.2" /><text transform="translate(773.35,42.30) rotate(90) scale(1.12,1)" x="0" y="0" dy="0.355em" textLength="17.32" lengthAdjust="spacingAndGlyphs" font-size="7.5" font-weight="bold" fill="#ffffff" stroke="#ffffff" stroke-width="0.3">10017</text><rect x="771.65" y="63.60" width="3.40" height="3.10" fill="#f4f8ff"/><rect x="778.00" y="41.40" width="9.80" height="28.50" fill="#1b8bcc" stroke="#1a1a1a" stroke-width="1.2" /><text transform="translate(782.70,42.30) rotate(90) scale(1.12,1)" x="0" y="0" dy="0.355em" textLength="17.32" lengthAdjust="spacingAndGlyphs" font-size="7.5" font-weight="bold" fill="#ffffff" stroke="#ffffff" stroke-width="0.3">10015</text><rect x="781.00" y="63.60" width="3.40" height="3.10" fill="#f4f8ff"/><rect x="787.80" y="41.40" width="9.40" height="28.50" fill="#1b8bcc" stroke="#1a1a1a" stroke-width="1.2" /><text transform="translate(792.30,42.30) rotate(90) scale(1.12,1)" x="0" y="0" dy="0.355em" textLength="17.32" lengthAdjust="spacingAndGlyphs" font-size="7.5" font-weight="bold" fill="#ffffff" stroke="#ffffff" stroke-width="0.3">10011</text><rect x="790.60" y="63.60" width="3.40" height="3.10" fill="#f4f8ff"/><rect x="797.20" y="41.40" width="9.20" height="28.50" fill="#1b8bcc" stroke="#1a1a1a" stroke-width="1.2" /><text transform="translate(801.60,42.30) rotate(90) scale(1.12,1)" x="0" y="0" dy="0.355em" textLength="17.32" lengthAdjust="spacingAndGlyphs" font-size="7.5" font-weight="bold" fill="#ffffff" stroke="#ffffff" stroke-width="0.3">10009</text><rect x="799.90" y="63.60" width="3.40" height="3.10" fill="#f4f8ff"/><rect x="806.40" y="41.40" width="10.20" height="28.50" fill="#1b8bcc" stroke="#1a1a1a" stroke-width="1.2" /><text transform="translate(811.30,42.30) rotate(90) scale(1.12,1)" x="0" y="0" dy="0.355em" textLength="17.32" lengthAdjust="spacingAndGlyphs" font-size="7.5" font-weight="bold" fill="#ffffff" stroke="#ffffff" stroke-width="0.3">10007</text><rect x="809.60" y="63.60" width="3.40" height="3.10" fill="#f4f8ff"/><rect x="816.60" y="41.40" width="9.90" height="28.50" fill="#1b8bcc" stroke="#1a1a1a" stroke-width="1.2" /><text transform="translate(821.35,42.30) rotate(90) scale(1.12,1)" x="0" y="0" dy="0.355em" textLength="17.32" lengthAdjust="spacingAndGlyphs" font-size="7.5" font-weight="bold" fill="#ffffff" stroke="#ffffff" stroke-width="0.3">10005</text><rect x="819.65" y="63.60" width="3.40" height="3.10" fill="#f4f8ff"/><rect x="826.50" y="41.40" width="9.00" height="28.50" fill="#1b8bcc" stroke="#1a1a1a" stroke-width="1.2" /><text transform="translate(830.80,42.30) rotate(90) scale(1.12,1)" x="0" y="0" dy="0.355em" textLength="17.32" lengthAdjust="spacingAndGlyphs" font-size="7.5" font-weight="bold" fill="#ffffff" stroke="#ffffff" stroke-width="0.3">10003</text><rect x="829.10" y="63.60" width="3.40" height="3.10" fill="#f4f8ff"/><rect x="835.50" y="41.40" width="28.80" height="28.50" fill="#9d6fb3" stroke="#1a1a1a" stroke-width="1.2" /><text transform="translate(848.50,44.00) rotate(90) scale(1.12,1)" x="0" y="0" dy="0.355em" textLength="17.14" lengthAdjust="spacingAndGlyphs" font-size="7.3" font-weight="bold" fill="#ffffff" stroke="#ffffff" stroke-width="0.25">10001</text><rect x="840.20" y="52.30" width="4.10" height="4.10" fill="#111"/><rect x="860.70" y="67.10" width="3.60" height="4.10" fill="#f5e3c6"/><path d="M 860.70,70.50 L 860.70,67.10 L 864.30,67.10 L 864.30,70.50" fill="none" stroke="#1a1a1a" stroke-width="1"/><rect x="77.20" y="104.40" width="9.62" height="27.90" fill="#1b8bcc" stroke="#1a1a1a" stroke-width="1.2" /><text transform="translate(81.81,107.30) rotate(90) scale(1.12,1)" x="0" y="0" dy="0.355em" textLength="17.32" lengthAdjust="spacingAndGlyphs" font-size="7.5" font-weight="bold" fill="#ffffff" stroke="#ffffff" stroke-width="0.3">10168</text><rect x="80.11" y="128.90" width="3.40" height="3.10" fill="#f4f8ff"/><rect x="86.83" y="104.40" width="9.62" height="27.90" fill="#1b8bcc" stroke="#1a1a1a" stroke-width="1.2" /><text transform="translate(91.44,107.30) rotate(90) scale(1.12,1)" x="0" y="0" dy="0.355em" textLength="17.32" lengthAdjust="spacingAndGlyphs" font-size="7.5" font-weight="bold" fill="#ffffff" stroke="#ffffff" stroke-width="0.3">10164</text><rect x="89.74" y="128.90" width="3.40" height="3.10" fill="#f4f8ff"/><rect x="96.45" y="104.40" width="9.62" height="27.90" fill="#1b8bcc" stroke="#1a1a1a" stroke-width="1.2" /><text transform="translate(101.06,107.30) rotate(90) scale(1.12,1)" x="0" y="0" dy="0.355em" textLength="17.32" lengthAdjust="spacingAndGlyphs" font-size="7.5" font-weight="bold" fill="#ffffff" stroke="#ffffff" stroke-width="0.3">10162</text><rect x="99.36" y="128.90" width="3.40" height="3.10" fill="#f4f8ff"/><rect x="106.08" y="104.40" width="9.62" height="27.90" fill="#1b8bcc" stroke="#1a1a1a" stroke-width="1.2" /><text transform="translate(110.69,107.30) rotate(90) scale(1.12,1)" x="0" y="0" dy="0.355em" textLength="17.32" lengthAdjust="spacingAndGlyphs" font-size="7.5" font-weight="bold" fill="#ffffff" stroke="#ffffff" stroke-width="0.3">10156</text><rect x="108.99" y="128.90" width="3.40" height="3.10" fill="#f4f8ff"/><rect x="115.70" y="104.40" width="14.59" height="27.90" fill="#f1a3c6" stroke="#1a1a1a" stroke-width="1.2" /><text transform="translate(123.40,107.40) rotate(90) scale(1.12,1)" x="0" y="0" dy="0.355em" textLength="17.86" lengthAdjust="spacingAndGlyphs" font-size="7.2" font-weight="bold" fill="#2a1a55" stroke="#2a1a55" stroke-width="0.12">10154</text><rect x="120.70" y="128.70" width="2.00" height="1.90" fill="#e0202c"/><rect x="124.20" y="128.10" width="4.60" height="4.50" fill="#0a0a0a"/><rect x="130.29" y="104.40" width="14.59" height="27.90" fill="#f1a3c6" stroke="#1a1a1a" stroke-width="1.2" /><text transform="translate(137.98,107.40) rotate(90) scale(1.12,1)" x="0" y="0" dy="0.355em" textLength="17.86" lengthAdjust="spacingAndGlyphs" font-size="7.2" font-weight="bold" fill="#2a1a55" stroke="#2a1a55" stroke-width="0.12">10150</text><rect x="135.29" y="128.70" width="2.00" height="1.90" fill="#e0202c"/><rect x="138.79" y="128.10" width="4.60" height="4.50" fill="#0a0a0a"/><rect x="144.88" y="104.40" width="14.59" height="27.90" fill="#f1a3c6" stroke="#1a1a1a" stroke-width="1.2" /><text transform="translate(152.58,107.40) rotate(90) scale(1.12,1)" x="0" y="0" dy="0.355em" textLength="17.86" lengthAdjust="spacingAndGlyphs" font-size="7.2" font-weight="bold" fill="#2a1a55" stroke="#2a1a55" stroke-width="0.12">10148</text><rect x="149.88" y="128.70" width="2.00" height="1.90" fill="#e0202c"/><rect x="153.38" y="128.10" width="4.60" height="4.50" fill="#0a0a0a"/><rect x="159.47" y="104.40" width="14.59" height="27.90" fill="#f1a3c6" stroke="#1a1a1a" stroke-width="1.2" /><text transform="translate(167.16,107.40) rotate(90) scale(1.12,1)" x="0" y="0" dy="0.355em" textLength="17.86" lengthAdjust="spacingAndGlyphs" font-size="7.2" font-weight="bold" fill="#2a1a55" stroke="#2a1a55" stroke-width="0.12">10146</text><rect x="164.47" y="128.70" width="2.00" height="1.90" fill="#e0202c"/><rect x="167.97" y="128.10" width="4.60" height="4.50" fill="#0a0a0a"/><rect x="174.06" y="104.40" width="14.59" height="27.90" fill="#f1a3c6" stroke="#1a1a1a" stroke-width="1.2" /><text transform="translate(181.76,107.40) rotate(90) scale(1.12,1)" x="0" y="0" dy="0.355em" textLength="17.86" lengthAdjust="spacingAndGlyphs" font-size="7.2" font-weight="bold" fill="#2a1a55" stroke="#2a1a55" stroke-width="0.12">10144</text><rect x="179.06" y="128.70" width="2.00" height="1.90" fill="#e0202c"/><rect x="182.56" y="128.10" width="4.60" height="4.50" fill="#0a0a0a"/><rect x="188.65" y="104.40" width="14.59" height="27.90" fill="#f1a3c6" stroke="#1a1a1a" stroke-width="1.2" /><text transform="translate(196.34,107.40) rotate(90) scale(1.12,1)" x="0" y="0" dy="0.355em" textLength="17.86" lengthAdjust="spacingAndGlyphs" font-size="7.2" font-weight="bold" fill="#2a1a55" stroke="#2a1a55" stroke-width="0.12">10142</text><rect x="193.65" y="128.70" width="2.00" height="1.90" fill="#e0202c"/><rect x="197.15" y="128.10" width="4.60" height="4.50" fill="#0a0a0a"/><rect x="203.24" y="104.40" width="14.59" height="27.90" fill="#f1a3c6" stroke="#1a1a1a" stroke-width="1.2" /><text transform="translate(210.94,107.40) rotate(90) scale(1.12,1)" x="0" y="0" dy="0.355em" textLength="17.86" lengthAdjust="spacingAndGlyphs" font-size="7.2" font-weight="bold" fill="#2a1a55" stroke="#2a1a55" stroke-width="0.12">10140</text><rect x="208.24" y="128.70" width="2.00" height="1.90" fill="#e0202c"/><rect x="211.74" y="128.10" width="4.60" height="4.50" fill="#0a0a0a"/><rect x="217.83" y="104.40" width="14.59" height="27.90" fill="#f1a3c6" stroke="#1a1a1a" stroke-width="1.2" /><text transform="translate(225.53,107.40) rotate(90) scale(1.12,1)" x="0" y="0" dy="0.355em" textLength="17.86" lengthAdjust="spacingAndGlyphs" font-size="7.2" font-weight="bold" fill="#2a1a55" stroke="#2a1a55" stroke-width="0.12">10136</text><rect x="222.83" y="128.70" width="2.00" height="1.90" fill="#e0202c"/><rect x="226.33" y="128.10" width="4.60" height="4.50" fill="#0a0a0a"/><rect x="232.40" y="104.40" width="9.81" height="27.90" fill="#1b8bcc" stroke="#1a1a1a" stroke-width="1.2" /><text transform="translate(237.10,107.30) rotate(90) scale(1.12,1)" x="0" y="0" dy="0.355em" textLength="17.32" lengthAdjust="spacingAndGlyphs" font-size="7.5" font-weight="bold" fill="#ffffff" stroke="#ffffff" stroke-width="0.3">10134</text><rect x="235.40" y="128.90" width="3.40" height="3.10" fill="#f4f8ff"/><rect x="242.21" y="104.40" width="9.81" height="27.90" fill="#1b8bcc" stroke="#1a1a1a" stroke-width="1.2" /><text transform="translate(246.91,107.30) rotate(90) scale(1.12,1)" x="0" y="0" dy="0.355em" textLength="17.32" lengthAdjust="spacingAndGlyphs" font-size="7.5" font-weight="bold" fill="#ffffff" stroke="#ffffff" stroke-width="0.3">10130</text><rect x="245.21" y="128.90" width="3.40" height="3.10" fill="#f4f8ff"/><rect x="252.01" y="104.40" width="9.81" height="27.90" fill="#1b8bcc" stroke="#1a1a1a" stroke-width="1.2" /><text transform="translate(256.72,107.30) rotate(90) scale(1.12,1)" x="0" y="0" dy="0.355em" textLength="17.32" lengthAdjust="spacingAndGlyphs" font-size="7.5" font-weight="bold" fill="#ffffff" stroke="#ffffff" stroke-width="0.3">10126</text><rect x="255.02" y="128.90" width="3.40" height="3.10" fill="#f4f8ff"/><rect x="261.82" y="104.40" width="9.81" height="27.90" fill="#1b8bcc" stroke="#1a1a1a" stroke-width="1.2" /><text transform="translate(266.52,107.30) rotate(90) scale(1.12,1)" x="0" y="0" dy="0.355em" textLength="17.32" lengthAdjust="spacingAndGlyphs" font-size="7.5" font-weight="bold" fill="#ffffff" stroke="#ffffff" stroke-width="0.3">10122</text><rect x="264.82" y="128.90" width="3.40" height="3.10" fill="#f4f8ff"/><rect x="271.63" y="104.40" width="9.81" height="27.90" fill="#1b8bcc" stroke="#1a1a1a" stroke-width="1.2" /><text transform="translate(276.33,107.30) rotate(90) scale(1.12,1)" x="0" y="0" dy="0.355em" textLength="17.32" lengthAdjust="spacingAndGlyphs" font-size="7.5" font-weight="bold" fill="#ffffff" stroke="#ffffff" stroke-width="0.3">10120</text><rect x="274.63" y="128.90" width="3.40" height="3.10" fill="#f4f8ff"/><rect x="281.44" y="104.40" width="9.81" height="27.90" fill="#1b8bcc" stroke="#1a1a1a" stroke-width="1.2" /><text transform="translate(286.14,107.30) rotate(90) scale(1.12,1)" x="0" y="0" dy="0.355em" textLength="17.32" lengthAdjust="spacingAndGlyphs" font-size="7.5" font-weight="bold" fill="#ffffff" stroke="#ffffff" stroke-width="0.3">10118</text><rect x="284.44" y="128.90" width="3.40" height="3.10" fill="#f4f8ff"/><rect x="291.24" y="104.40" width="9.81" height="27.90" fill="#1b8bcc" stroke="#1a1a1a" stroke-width="1.2" /><text transform="translate(295.95,107.30) rotate(90) scale(1.12,1)" x="0" y="0" dy="0.355em" textLength="17.32" lengthAdjust="spacingAndGlyphs" font-size="7.5" font-weight="bold" fill="#ffffff" stroke="#ffffff" stroke-width="0.3">10116</text><rect x="294.25" y="128.90" width="3.40" height="3.10" fill="#f4f8ff"/><rect x="301.05" y="104.40" width="9.81" height="27.90" fill="#1b8bcc" stroke="#1a1a1a" stroke-width="1.2" /><text transform="translate(305.75,107.30) rotate(90) scale(1.12,1)" x="0" y="0" dy="0.355em" textLength="17.32" lengthAdjust="spacingAndGlyphs" font-size="7.5" font-weight="bold" fill="#ffffff" stroke="#ffffff" stroke-width="0.3">10114</text><rect x="304.05" y="128.90" width="3.40" height="3.10" fill="#f4f8ff"/><rect x="310.86" y="104.40" width="9.81" height="27.90" fill="#1b8bcc" stroke="#1a1a1a" stroke-width="1.2" /><text transform="translate(315.56,107.30) rotate(90) scale(1.12,1)" x="0" y="0" dy="0.355em" textLength="17.32" lengthAdjust="spacingAndGlyphs" font-size="7.5" font-weight="bold" fill="#ffffff" stroke="#ffffff" stroke-width="0.3">10112</text><rect x="313.86" y="128.90" width="3.40" height="3.10" fill="#f4f8ff"/><rect x="320.66" y="104.40" width="9.81" height="27.90" fill="#1b8bcc" stroke="#1a1a1a" stroke-width="1.2" /><text transform="translate(325.37,107.30) rotate(90) scale(1.12,1)" x="0" y="0" dy="0.355em" textLength="17.32" lengthAdjust="spacingAndGlyphs" font-size="7.5" font-weight="bold" fill="#ffffff" stroke="#ffffff" stroke-width="0.3">10110</text><rect x="323.67" y="128.90" width="3.40" height="3.10" fill="#f4f8ff"/><rect x="330.47" y="104.40" width="9.81" height="27.90" fill="#1b8bcc" stroke="#1a1a1a" stroke-width="1.2" /><text transform="translate(335.17,107.30) rotate(90) scale(1.12,1)" x="0" y="0" dy="0.355em" textLength="17.32" lengthAdjust="spacingAndGlyphs" font-size="7.5" font-weight="bold" fill="#ffffff" stroke="#ffffff" stroke-width="0.3">10108</text><rect x="333.47" y="128.90" width="3.40" height="3.10" fill="#f4f8ff"/><rect x="340.28" y="104.40" width="9.81" height="27.90" fill="#1b8bcc" stroke="#1a1a1a" stroke-width="1.2" /><text transform="translate(344.98,107.30) rotate(90) scale(1.12,1)" x="0" y="0" dy="0.355em" textLength="17.32" lengthAdjust="spacingAndGlyphs" font-size="7.5" font-weight="bold" fill="#ffffff" stroke="#ffffff" stroke-width="0.3">10106</text><rect x="343.28" y="128.90" width="3.40" height="3.10" fill="#f4f8ff"/><rect x="350.08" y="104.40" width="9.81" height="27.90" fill="#1b8bcc" stroke="#1a1a1a" stroke-width="1.2" /><text transform="translate(354.79,107.30) rotate(90) scale(1.12,1)" x="0" y="0" dy="0.355em" textLength="17.32" lengthAdjust="spacingAndGlyphs" font-size="7.5" font-weight="bold" fill="#ffffff" stroke="#ffffff" stroke-width="0.3">10104</text><rect x="353.09" y="128.90" width="3.40" height="3.10" fill="#f4f8ff"/><rect x="359.89" y="104.40" width="9.81" height="27.90" fill="#1b8bcc" stroke="#1a1a1a" stroke-width="1.2" /><text transform="translate(364.59,107.30) rotate(90) scale(1.12,1)" x="0" y="0" dy="0.355em" textLength="17.32" lengthAdjust="spacingAndGlyphs" font-size="7.5" font-weight="bold" fill="#ffffff" stroke="#ffffff" stroke-width="0.3">10102</text><rect x="362.89" y="128.90" width="3.40" height="3.10" fill="#f4f8ff"/><rect x="369.40" y="108.90" width="14.35" height="27.70" fill="#f1a3c6" stroke="#1a1a1a" stroke-width="1.2" /><text transform="translate(376.97,112.70) rotate(90) scale(1.12,1)" x="0" y="0" dy="0.355em" textLength="17.86" lengthAdjust="spacingAndGlyphs" font-size="7.2" font-weight="bold" fill="#2a1a55" stroke="#2a1a55" stroke-width="0.12">10100</text><rect x="374.40" y="133.00" width="2.00" height="1.90" fill="#e0202c"/><rect x="377.90" y="132.40" width="4.60" height="4.50" fill="#0a0a0a"/><rect x="383.75" y="108.90" width="14.35" height="27.70" fill="#f1a3c6" stroke="#1a1a1a" stroke-width="1.2" /><text transform="translate(391.32,112.70) rotate(90) scale(1.12,1)" x="0" y="0" dy="0.355em" textLength="17.86" lengthAdjust="spacingAndGlyphs" font-size="7.2" font-weight="bold" fill="#2a1a55" stroke="#2a1a55" stroke-width="0.12">10098</text><rect x="388.75" y="133.00" width="2.00" height="1.90" fill="#e0202c"/><rect x="398.10" y="108.90" width="14.35" height="27.70" fill="#f1a3c6" stroke="#1a1a1a" stroke-width="1.2" /><text transform="translate(405.67,112.70) rotate(90) scale(1.12,1)" x="0" y="0" dy="0.355em" textLength="17.86" lengthAdjust="spacingAndGlyphs" font-size="7.2" font-weight="bold" fill="#2a1a55" stroke="#2a1a55" stroke-width="0.12">10096</text><rect x="403.10" y="133.00" width="2.00" height="1.90" fill="#e0202c"/><rect x="412.45" y="108.90" width="14.35" height="27.70" fill="#f1a3c6" stroke="#1a1a1a" stroke-width="1.2" /><text transform="translate(420.02,112.70) rotate(90) scale(1.12,1)" x="0" y="0" dy="0.355em" textLength="17.86" lengthAdjust="spacingAndGlyphs" font-size="7.2" font-weight="bold" fill="#2a1a55" stroke="#2a1a55" stroke-width="0.12">10094</text><rect x="417.45" y="133.00" width="2.00" height="1.90" fill="#e0202c"/><rect x="420.95" y="132.40" width="4.60" height="4.50" fill="#0a0a0a"/><rect x="426.80" y="104.40" width="14.57" height="27.90" fill="#f1a3c6" stroke="#1a1a1a" stroke-width="1.2" /><text transform="translate(434.49,107.40) rotate(90) scale(1.12,1)" x="0" y="0" dy="0.355em" textLength="17.86" lengthAdjust="spacingAndGlyphs" font-size="7.2" font-weight="bold" fill="#2a1a55" stroke="#2a1a55" stroke-width="0.12">10092</text><rect x="431.80" y="128.70" width="2.00" height="1.90" fill="#e0202c"/><rect x="441.38" y="104.40" width="14.57" height="27.90" fill="#f1a3c6" stroke="#1a1a1a" stroke-width="1.2" /><text transform="translate(449.06,107.40) rotate(90) scale(1.12,1)" x="0" y="0" dy="0.355em" textLength="17.86" lengthAdjust="spacingAndGlyphs" font-size="7.2" font-weight="bold" fill="#2a1a55" stroke="#2a1a55" stroke-width="0.12">10090</text><rect x="446.38" y="128.70" width="2.00" height="1.90" fill="#e0202c"/><rect x="449.88" y="128.10" width="4.60" height="4.50" fill="#0a0a0a"/><rect x="455.95" y="104.40" width="14.57" height="27.90" fill="#f1a3c6" stroke="#1a1a1a" stroke-width="1.2" /><text transform="translate(463.64,107.40) rotate(90) scale(1.12,1)" x="0" y="0" dy="0.355em" textLength="17.86" lengthAdjust="spacingAndGlyphs" font-size="7.2" font-weight="bold" fill="#2a1a55" stroke="#2a1a55" stroke-width="0.12">10086</text><rect x="460.95" y="128.70" width="2.00" height="1.90" fill="#e0202c"/><rect x="470.52" y="104.40" width="14.58" height="27.90" fill="#f1a3c6" stroke="#1a1a1a" stroke-width="1.2" /><text transform="translate(478.21,107.40) rotate(90) scale(1.12,1)" x="0" y="0" dy="0.355em" textLength="17.86" lengthAdjust="spacingAndGlyphs" font-size="7.2" font-weight="bold" fill="#2a1a55" stroke="#2a1a55" stroke-width="0.12">10082</text><rect x="475.52" y="128.70" width="2.00" height="1.90" fill="#e0202c"/><rect x="479.02" y="128.10" width="4.60" height="4.50" fill="#0a0a0a"/><rect x="485.10" y="104.40" width="14.57" height="27.90" fill="#f1a3c6" stroke="#1a1a1a" stroke-width="1.2" /><text transform="translate(492.79,107.40) rotate(90) scale(1.12,1)" x="0" y="0" dy="0.355em" textLength="17.86" lengthAdjust="spacingAndGlyphs" font-size="7.2" font-weight="bold" fill="#2a1a55" stroke="#2a1a55" stroke-width="0.12">10080</text><rect x="490.10" y="128.70" width="2.00" height="1.90" fill="#e0202c"/><rect x="499.68" y="104.40" width="14.57" height="27.90" fill="#f1a3c6" stroke="#1a1a1a" stroke-width="1.2" /><text transform="translate(507.36,107.40) rotate(90) scale(1.12,1)" x="0" y="0" dy="0.355em" textLength="17.86" lengthAdjust="spacingAndGlyphs" font-size="7.2" font-weight="bold" fill="#2a1a55" stroke="#2a1a55" stroke-width="0.12">10078</text><rect x="504.68" y="128.70" width="2.00" height="1.90" fill="#e0202c"/><rect x="508.18" y="128.10" width="4.60" height="4.50" fill="#0a0a0a"/><rect x="514.25" y="104.40" width="14.58" height="27.90" fill="#f1a3c6" stroke="#1a1a1a" stroke-width="1.2" /><text transform="translate(521.94,107.40) rotate(90) scale(1.12,1)" x="0" y="0" dy="0.355em" textLength="17.86" lengthAdjust="spacingAndGlyphs" font-size="7.2" font-weight="bold" fill="#2a1a55" stroke="#2a1a55" stroke-width="0.12">10076</text><rect x="519.25" y="128.70" width="2.00" height="1.90" fill="#e0202c"/><rect x="528.83" y="104.40" width="14.57" height="27.90" fill="#f1a3c6" stroke="#1a1a1a" stroke-width="1.2" /><text transform="translate(536.51,107.40) rotate(90) scale(1.12,1)" x="0" y="0" dy="0.355em" textLength="17.86" lengthAdjust="spacingAndGlyphs" font-size="7.2" font-weight="bold" fill="#2a1a55" stroke="#2a1a55" stroke-width="0.12">10072</text><rect x="533.83" y="128.70" width="2.00" height="1.90" fill="#e0202c"/><rect x="543.40" y="104.40" width="14.58" height="27.90" fill="#f1a3c6" stroke="#1a1a1a" stroke-width="1.2" /><text transform="translate(551.09,107.40) rotate(90) scale(1.12,1)" x="0" y="0" dy="0.355em" textLength="17.86" lengthAdjust="spacingAndGlyphs" font-size="7.2" font-weight="bold" fill="#2a1a55" stroke="#2a1a55" stroke-width="0.12">10068</text><rect x="548.40" y="128.70" width="2.00" height="1.90" fill="#e0202c"/><rect x="557.98" y="104.40" width="14.57" height="27.90" fill="#f1a3c6" stroke="#1a1a1a" stroke-width="1.2" /><text transform="translate(565.66,107.40) rotate(90) scale(1.12,1)" x="0" y="0" dy="0.355em" textLength="17.86" lengthAdjust="spacingAndGlyphs" font-size="7.2" font-weight="bold" fill="#2a1a55" stroke="#2a1a55" stroke-width="0.12">10062</text><rect x="563.18" y="128.90" width="1.70" height="1.70" fill="none" stroke="#e0202c" stroke-width="0.7" /><rect x="572.55" y="104.40" width="14.58" height="27.90" fill="#f1a3c6" stroke="#1a1a1a" stroke-width="1.2" /><text transform="translate(580.24,107.40) rotate(90) scale(1.12,1)" x="0" y="0" dy="0.355em" textLength="17.86" lengthAdjust="spacingAndGlyphs" font-size="7.2" font-weight="bold" fill="#2a1a55" stroke="#2a1a55" stroke-width="0.12">10060</text><rect x="577.55" y="128.70" width="2.00" height="1.90" fill="#e0202c"/><rect x="587.12" y="104.40" width="14.58" height="27.90" fill="#f1a3c6" stroke="#1a1a1a" stroke-width="1.2" /><text transform="translate(594.81,107.40) rotate(90) scale(1.12,1)" x="0" y="0" dy="0.355em" textLength="17.86" lengthAdjust="spacingAndGlyphs" font-size="7.2" font-weight="bold" fill="#2a1a55" stroke="#2a1a55" stroke-width="0.12">10054</text><rect x="592.12" y="128.70" width="2.00" height="1.90" fill="#e0202c"/><rect x="601.70" y="104.40" width="9.92" height="27.90" fill="#1b8bcc" stroke="#1a1a1a" stroke-width="1.2" /><text transform="translate(606.46,107.30) rotate(90) scale(1.12,1)" x="0" y="0" dy="0.355em" textLength="17.32" lengthAdjust="spacingAndGlyphs" font-size="7.5" font-weight="bold" fill="#ffffff" stroke="#ffffff" stroke-width="0.3">10052</text><rect x="604.76" y="128.90" width="3.40" height="3.10" fill="#f4f8ff"/><rect x="611.62" y="104.40" width="9.93" height="27.90" fill="#1b8bcc" stroke="#1a1a1a" stroke-width="1.2" /><text transform="translate(616.39,107.30) rotate(90) scale(1.12,1)" x="0" y="0" dy="0.355em" textLength="17.32" lengthAdjust="spacingAndGlyphs" font-size="7.5" font-weight="bold" fill="#ffffff" stroke="#ffffff" stroke-width="0.3">10048</text><rect x="614.69" y="128.90" width="3.40" height="3.10" fill="#f4f8ff"/><rect x="621.55" y="104.40" width="9.92" height="27.90" fill="#1b8bcc" stroke="#1a1a1a" stroke-width="1.2" /><text transform="translate(626.31,107.30) rotate(90) scale(1.12,1)" x="0" y="0" dy="0.355em" textLength="17.32" lengthAdjust="spacingAndGlyphs" font-size="7.5" font-weight="bold" fill="#ffffff" stroke="#ffffff" stroke-width="0.3">10046</text><rect x="624.61" y="128.90" width="3.40" height="3.10" fill="#f4f8ff"/><rect x="631.48" y="104.40" width="9.93" height="27.90" fill="#1b8bcc" stroke="#1a1a1a" stroke-width="1.2" /><text transform="translate(636.24,107.30) rotate(90) scale(1.12,1)" x="0" y="0" dy="0.355em" textLength="17.32" lengthAdjust="spacingAndGlyphs" font-size="7.5" font-weight="bold" fill="#ffffff" stroke="#ffffff" stroke-width="0.3">10042</text><rect x="634.54" y="128.90" width="3.40" height="3.10" fill="#f4f8ff"/><rect x="641.40" y="104.40" width="14.62" height="27.90" fill="#f1a3c6" stroke="#1a1a1a" stroke-width="1.2" /><text transform="translate(649.11,107.40) rotate(90) scale(1.12,1)" x="0" y="0" dy="0.355em" textLength="17.86" lengthAdjust="spacingAndGlyphs" font-size="7.2" font-weight="bold" fill="#2a1a55" stroke="#2a1a55" stroke-width="0.12">10038</text><rect x="646.40" y="128.70" width="2.00" height="1.90" fill="#e0202c"/><rect x="649.90" y="128.10" width="4.60" height="4.50" fill="#0a0a0a"/><rect x="656.02" y="104.40" width="14.62" height="27.90" fill="#f1a3c6" stroke="#1a1a1a" stroke-width="1.2" /><text transform="translate(663.74,107.40) rotate(90) scale(1.12,1)" x="0" y="0" dy="0.355em" textLength="17.86" lengthAdjust="spacingAndGlyphs" font-size="7.2" font-weight="bold" fill="#2a1a55" stroke="#2a1a55" stroke-width="0.12">10034</text><rect x="661.02" y="128.70" width="2.00" height="1.90" fill="#e0202c"/><rect x="670.65" y="104.40" width="14.62" height="27.90" fill="#f1a3c6" stroke="#1a1a1a" stroke-width="1.2" /><text transform="translate(678.36,107.40) rotate(90) scale(1.12,1)" x="0" y="0" dy="0.355em" textLength="17.86" lengthAdjust="spacingAndGlyphs" font-size="7.2" font-weight="bold" fill="#2a1a55" stroke="#2a1a55" stroke-width="0.12">10030</text><rect x="675.65" y="128.70" width="2.00" height="1.90" fill="#e0202c"/><rect x="679.15" y="128.10" width="4.60" height="4.50" fill="#0a0a0a"/><rect x="685.27" y="104.40" width="14.62" height="27.90" fill="#f1a3c6" stroke="#1a1a1a" stroke-width="1.2" /><text transform="translate(692.99,107.40) rotate(90) scale(1.12,1)" x="0" y="0" dy="0.355em" textLength="17.86" lengthAdjust="spacingAndGlyphs" font-size="7.2" font-weight="bold" fill="#2a1a55" stroke="#2a1a55" stroke-width="0.12">10026</text><rect x="690.27" y="128.70" width="2.00" height="1.90" fill="#e0202c"/><rect x="699.90" y="108.90" width="14.33" height="27.70" fill="#f1a3c6" stroke="#1a1a1a" stroke-width="1.2" /><text transform="translate(707.46,112.70) rotate(90) scale(1.12,1)" x="0" y="0" dy="0.355em" textLength="17.86" lengthAdjust="spacingAndGlyphs" font-size="7.2" font-weight="bold" fill="#2a1a55" stroke="#2a1a55" stroke-width="0.12">10024</text><rect x="704.90" y="133.00" width="2.00" height="1.90" fill="#e0202c"/><rect x="714.23" y="108.90" width="14.32" height="27.70" fill="#f1a3c6" stroke="#1a1a1a" stroke-width="1.2" /><text transform="translate(721.79,112.70) rotate(90) scale(1.12,1)" x="0" y="0" dy="0.355em" textLength="17.86" lengthAdjust="spacingAndGlyphs" font-size="7.2" font-weight="bold" fill="#2a1a55" stroke="#2a1a55" stroke-width="0.12">10022</text><rect x="719.43" y="133.20" width="1.70" height="1.70" fill="none" stroke="#e0202c" stroke-width="0.7" /><rect x="728.55" y="108.90" width="14.33" height="27.70" fill="#f1a3c6" stroke="#1a1a1a" stroke-width="1.2" /><text transform="translate(736.11,112.70) rotate(90) scale(1.12,1)" x="0" y="0" dy="0.355em" textLength="17.86" lengthAdjust="spacingAndGlyphs" font-size="7.2" font-weight="bold" fill="#2a1a55" stroke="#2a1a55" stroke-width="0.12">10020</text><rect x="733.55" y="133.00" width="2.00" height="1.90" fill="#e0202c"/><rect x="742.88" y="108.90" width="14.32" height="27.70" fill="#f1a3c6" stroke="#1a1a1a" stroke-width="1.2" /><text transform="translate(750.44,112.70) rotate(90) scale(1.12,1)" x="0" y="0" dy="0.355em" textLength="17.86" lengthAdjust="spacingAndGlyphs" font-size="7.2" font-weight="bold" fill="#2a1a55" stroke="#2a1a55" stroke-width="0.12">10018</text><rect x="747.88" y="133.00" width="2.00" height="1.90" fill="#e0202c"/><rect x="757.20" y="104.40" width="11.90" height="27.90" fill="#1b8bcc" stroke="#1a1a1a" stroke-width="1.2" /><text transform="translate(762.95,107.30) rotate(90) scale(1.12,1)" x="0" y="0" dy="0.355em" textLength="17.32" lengthAdjust="spacingAndGlyphs" font-size="7.5" font-weight="bold" fill="#ffffff" stroke="#ffffff" stroke-width="0.3">10016</text><rect x="761.25" y="128.90" width="3.40" height="3.10" fill="#f4f8ff"/><rect x="769.10" y="104.40" width="8.90" height="27.90" fill="#1b8bcc" stroke="#1a1a1a" stroke-width="1.2" /><text transform="translate(773.35,107.30) rotate(90) scale(1.12,1)" x="0" y="0" dy="0.355em" textLength="17.32" lengthAdjust="spacingAndGlyphs" font-size="7.5" font-weight="bold" fill="#ffffff" stroke="#ffffff" stroke-width="0.3">10014</text><rect x="771.65" y="128.90" width="3.40" height="3.10" fill="#f4f8ff"/><rect x="778.00" y="104.40" width="9.80" height="27.90" fill="#1b8bcc" stroke="#1a1a1a" stroke-width="1.2" /><text transform="translate(782.70,107.30) rotate(90) scale(1.12,1)" x="0" y="0" dy="0.355em" textLength="17.32" lengthAdjust="spacingAndGlyphs" font-size="7.5" font-weight="bold" fill="#ffffff" stroke="#ffffff" stroke-width="0.3">10012</text><rect x="781.00" y="128.90" width="3.40" height="3.10" fill="#f4f8ff"/><rect x="787.80" y="104.40" width="9.40" height="27.90" fill="#1b8bcc" stroke="#1a1a1a" stroke-width="1.2" /><text transform="translate(792.30,107.30) rotate(90) scale(1.12,1)" x="0" y="0" dy="0.355em" textLength="17.32" lengthAdjust="spacingAndGlyphs" font-size="7.5" font-weight="bold" fill="#ffffff" stroke="#ffffff" stroke-width="0.3">10010</text><rect x="790.60" y="128.90" width="3.40" height="3.10" fill="#f4f8ff"/><rect x="797.20" y="104.40" width="9.20" height="27.90" fill="#1b8bcc" stroke="#1a1a1a" stroke-width="1.2" /><text transform="translate(801.60,107.30) rotate(90) scale(1.12,1)" x="0" y="0" dy="0.355em" textLength="17.32" lengthAdjust="spacingAndGlyphs" font-size="7.5" font-weight="bold" fill="#ffffff" stroke="#ffffff" stroke-width="0.3">10008</text><rect x="799.90" y="128.90" width="3.40" height="3.10" fill="#f4f8ff"/><rect x="806.40" y="104.40" width="10.20" height="27.90" fill="#1b8bcc" stroke="#1a1a1a" stroke-width="1.2" /><text transform="translate(811.30,107.30) rotate(90) scale(1.12,1)" x="0" y="0" dy="0.355em" textLength="17.32" lengthAdjust="spacingAndGlyphs" font-size="7.5" font-weight="bold" fill="#ffffff" stroke="#ffffff" stroke-width="0.3">10006</text><rect x="809.60" y="128.90" width="3.40" height="3.10" fill="#f4f8ff"/><rect x="816.60" y="104.40" width="9.90" height="27.90" fill="#1b8bcc" stroke="#1a1a1a" stroke-width="1.2" /><text transform="translate(821.35,107.30) rotate(90) scale(1.12,1)" x="0" y="0" dy="0.355em" textLength="17.32" lengthAdjust="spacingAndGlyphs" font-size="7.5" font-weight="bold" fill="#ffffff" stroke="#ffffff" stroke-width="0.3">10004</text><rect x="819.65" y="128.90" width="3.40" height="3.10" fill="#f4f8ff"/><rect x="826.50" y="104.40" width="9.00" height="27.90" fill="#1b8bcc" stroke="#1a1a1a" stroke-width="1.2" /><text transform="translate(830.80,107.30) rotate(90) scale(1.12,1)" x="0" y="0" dy="0.355em" textLength="17.32" lengthAdjust="spacingAndGlyphs" font-size="7.5" font-weight="bold" fill="#ffffff" stroke="#ffffff" stroke-width="0.3">10002</text><rect x="829.10" y="128.90" width="3.40" height="3.10" fill="#f4f8ff"/><rect x="835.50" y="104.40" width="28.80" height="27.90" fill="#9d6fb3" stroke="#1a1a1a" stroke-width="1.2" /><text transform="translate(848.50,107.00) rotate(90) scale(1.12,1)" x="0" y="0" dy="0.355em" textLength="17.14" lengthAdjust="spacingAndGlyphs" font-size="7.3" font-weight="bold" fill="#ffffff" stroke="#ffffff" stroke-width="0.25">10000</text><rect x="840.20" y="115.30" width="4.10" height="4.10" fill="#111"/><rect x="860.70" y="103.10" width="3.60" height="4.10" fill="#f5e3c6"/><path d="M 860.70,103.90 L 860.70,107.20 L 864.30,107.20 L 864.30,103.90" fill="none" stroke="#1a1a1a" stroke-width="1"/><rect x="74.20" y="67.40" width="6.00" height="3.80" fill="#f5e3c6"/><path d="M 74.20,70.50 L 74.20,67.40 L 80.20,67.40 L 80.20,70.50" fill="none" stroke="#1a1a1a" stroke-width="1"/><rect x="74.20" y="103.10" width="6.00" height="3.50" fill="#f5e3c6"/><path d="M 74.20,103.90 L 74.20,106.60 L 80.20,106.60 L 80.20,103.90" fill="none" stroke="#1a1a1a" stroke-width="1"/><rect x="93.45" y="67.40" width="6.00" height="3.80" fill="#f5e3c6"/><path d="M 93.45,70.50 L 93.45,67.40 L 99.45,67.40 L 99.45,70.50" fill="none" stroke="#1a1a1a" stroke-width="1"/><rect x="93.45" y="103.10" width="6.00" height="3.50" fill="#f5e3c6"/><path d="M 93.45,103.90 L 93.45,106.60 L 99.45,106.60 L 99.45,103.90" fill="none" stroke="#1a1a1a" stroke-width="1"/><rect x="112.70" y="67.40" width="6.00" height="3.80" fill="#f5e3c6"/><path d="M 112.70,70.50 L 112.70,67.40 L 118.70,67.40 L 118.70,70.50" fill="none" stroke="#1a1a1a" stroke-width="1"/><rect x="112.70" y="103.10" width="6.00" height="3.50" fill="#f5e3c6"/><path d="M 112.70,103.90 L 112.70,106.60 L 118.70,106.60 L 118.70,103.90" fill="none" stroke="#1a1a1a" stroke-width="1"/><rect x="110.70" y="67.40" width="10.00" height="3.80" fill="#f5e3c6"/><path d="M 110.70,70.50 L 110.70,67.40 L 120.70,67.40 L 120.70,70.50" fill="none" stroke="#1a1a1a" stroke-width="1"/><rect x="110.70" y="103.10" width="10.00" height="3.50" fill="#f5e3c6"/><path d="M 110.70,103.90 L 110.70,106.60 L 120.70,106.60 L 120.70,103.90" fill="none" stroke="#1a1a1a" stroke-width="1"/><rect x="139.88" y="67.40" width="10.00" height="3.80" fill="#f5e3c6"/><path d="M 139.88,70.50 L 139.88,67.40 L 149.88,67.40 L 149.88,70.50" fill="none" stroke="#1a1a1a" stroke-width="1"/><rect x="139.88" y="103.10" width="10.00" height="3.50" fill="#f5e3c6"/><path d="M 139.88,103.90 L 139.88,106.60 L 149.88,106.60 L 149.88,103.90" fill="none" stroke="#1a1a1a" stroke-width="1"/><rect x="169.06" y="67.40" width="10.00" height="3.80" fill="#f5e3c6"/><path d="M 169.06,70.50 L 169.06,67.40 L 179.06,67.40 L 179.06,70.50" fill="none" stroke="#1a1a1a" stroke-width="1"/><rect x="169.06" y="103.10" width="10.00" height="3.50" fill="#f5e3c6"/><path d="M 169.06,103.90 L 169.06,106.60 L 179.06,106.60 L 179.06,103.90" fill="none" stroke="#1a1a1a" stroke-width="1"/><rect x="198.24" y="67.40" width="10.00" height="3.80" fill="#f5e3c6"/><path d="M 198.24,70.50 L 198.24,67.40 L 208.24,67.40 L 208.24,70.50" fill="none" stroke="#1a1a1a" stroke-width="1"/><rect x="198.24" y="103.10" width="10.00" height="3.50" fill="#f5e3c6"/><path d="M 198.24,103.90 L 198.24,106.60 L 208.24,106.60 L 208.24,103.90" fill="none" stroke="#1a1a1a" stroke-width="1"/><rect x="227.42" y="67.40" width="10.00" height="3.80" fill="#f5e3c6"/><path d="M 227.42,70.50 L 227.42,67.40 L 237.42,67.40 L 237.42,70.50" fill="none" stroke="#1a1a1a" stroke-width="1"/><rect x="227.42" y="103.10" width="10.00" height="3.50" fill="#f5e3c6"/><path d="M 227.42,103.90 L 227.42,106.60 L 237.42,106.60 L 237.42,103.90" fill="none" stroke="#1a1a1a" stroke-width="1"/><rect x="229.30" y="67.40" width="6.20" height="3.80" fill="#f5e3c6"/><path d="M 229.30,70.50 L 229.30,67.40 L 235.50,67.40 L 235.50,70.50" fill="none" stroke="#1a1a1a" stroke-width="1"/><rect x="229.30" y="103.10" width="6.20" height="3.50" fill="#f5e3c6"/><path d="M 229.30,103.90 L 229.30,106.60 L 235.50,106.60 L 235.50,103.90" fill="none" stroke="#1a1a1a" stroke-width="1"/><rect x="248.91" y="67.40" width="6.20" height="3.80" fill="#f5e3c6"/><path d="M 248.91,70.50 L 248.91,67.40 L 255.11,67.40 L 255.11,70.50" fill="none" stroke="#1a1a1a" stroke-width="1"/><rect x="248.91" y="103.10" width="6.20" height="3.50" fill="#f5e3c6"/><path d="M 248.91,103.90 L 248.91,106.60 L 255.11,106.60 L 255.11,103.90" fill="none" stroke="#1a1a1a" stroke-width="1"/><rect x="268.53" y="67.40" width="6.20" height="3.80" fill="#f5e3c6"/><path d="M 268.53,70.50 L 268.53,67.40 L 274.73,67.40 L 274.73,70.50" fill="none" stroke="#1a1a1a" stroke-width="1"/><rect x="268.53" y="103.10" width="6.20" height="3.50" fill="#f5e3c6"/><path d="M 268.53,103.90 L 268.53,106.60 L 274.73,106.60 L 274.73,103.90" fill="none" stroke="#1a1a1a" stroke-width="1"/><rect x="288.14" y="67.40" width="6.20" height="3.80" fill="#f5e3c6"/><path d="M 288.14,70.50 L 288.14,67.40 L 294.34,67.40 L 294.34,70.50" fill="none" stroke="#1a1a1a" stroke-width="1"/><rect x="288.14" y="103.10" width="6.20" height="3.50" fill="#f5e3c6"/><path d="M 288.14,103.90 L 288.14,106.60 L 294.34,106.60 L 294.34,103.90" fill="none" stroke="#1a1a1a" stroke-width="1"/><rect x="307.76" y="67.40" width="6.20" height="3.80" fill="#f5e3c6"/><path d="M 307.76,70.50 L 307.76,67.40 L 313.96,67.40 L 313.96,70.50" fill="none" stroke="#1a1a1a" stroke-width="1"/><rect x="307.76" y="103.10" width="6.20" height="3.50" fill="#f5e3c6"/><path d="M 307.76,103.90 L 307.76,106.60 L 313.96,106.60 L 313.96,103.90" fill="none" stroke="#1a1a1a" stroke-width="1"/><rect x="327.37" y="67.40" width="6.20" height="3.80" fill="#f5e3c6"/><path d="M 327.37,70.50 L 327.37,67.40 L 333.57,67.40 L 333.57,70.50" fill="none" stroke="#1a1a1a" stroke-width="1"/><rect x="327.37" y="103.10" width="6.20" height="3.50" fill="#f5e3c6"/><path d="M 327.37,103.90 L 327.37,106.60 L 333.57,106.60 L 333.57,103.90" fill="none" stroke="#1a1a1a" stroke-width="1"/><rect x="346.98" y="67.40" width="6.20" height="3.80" fill="#f5e3c6"/><path d="M 346.98,70.50 L 346.98,67.40 L 353.18,67.40 L 353.18,70.50" fill="none" stroke="#1a1a1a" stroke-width="1"/><rect x="346.98" y="103.10" width="6.20" height="3.50" fill="#f5e3c6"/><path d="M 346.98,103.90 L 346.98,106.60 L 353.18,106.60 L 353.18,103.90" fill="none" stroke="#1a1a1a" stroke-width="1"/><rect x="366.60" y="67.40" width="6.20" height="3.80" fill="#f5e3c6"/><path d="M 366.60,70.50 L 366.60,67.40 L 372.80,67.40 L 372.80,70.50" fill="none" stroke="#1a1a1a" stroke-width="1"/><rect x="366.60" y="103.10" width="6.20" height="3.50" fill="#f5e3c6"/><path d="M 366.60,103.90 L 366.60,106.60 L 372.80,106.60 L 372.80,103.90" fill="none" stroke="#1a1a1a" stroke-width="1"/><rect x="450.95" y="67.40" width="10.00" height="3.80" fill="#f5e3c6"/><path d="M 450.95,70.50 L 450.95,67.40 L 460.95,67.40 L 460.95,70.50" fill="none" stroke="#1a1a1a" stroke-width="1"/><rect x="450.95" y="103.10" width="10.00" height="3.50" fill="#f5e3c6"/><path d="M 450.95,103.90 L 450.95,106.60 L 460.95,106.60 L 460.95,103.90" fill="none" stroke="#1a1a1a" stroke-width="1"/><rect x="480.10" y="67.40" width="10.00" height="3.80" fill="#f5e3c6"/><path d="M 480.10,70.50 L 480.10,67.40 L 490.10,67.40 L 490.10,70.50" fill="none" stroke="#1a1a1a" stroke-width="1"/><rect x="480.10" y="103.10" width="10.00" height="3.50" fill="#f5e3c6"/><path d="M 480.10,103.90 L 480.10,106.60 L 490.10,106.60 L 490.10,103.90" fill="none" stroke="#1a1a1a" stroke-width="1"/><rect x="509.25" y="67.40" width="10.00" height="3.80" fill="#f5e3c6"/><path d="M 509.25,70.50 L 509.25,67.40 L 519.25,67.40 L 519.25,70.50" fill="none" stroke="#1a1a1a" stroke-width="1"/><rect x="509.25" y="103.10" width="10.00" height="3.50" fill="#f5e3c6"/><path d="M 509.25,103.90 L 509.25,106.60 L 519.25,106.60 L 519.25,103.90" fill="none" stroke="#1a1a1a" stroke-width="1"/><rect x="538.40" y="67.40" width="10.00" height="3.80" fill="#f5e3c6"/><path d="M 538.40,70.50 L 538.40,67.40 L 548.40,67.40 L 548.40,70.50" fill="none" stroke="#1a1a1a" stroke-width="1"/><rect x="538.40" y="103.10" width="10.00" height="3.50" fill="#f5e3c6"/><path d="M 538.40,103.90 L 538.40,106.60 L 548.40,106.60 L 548.40,103.90" fill="none" stroke="#1a1a1a" stroke-width="1"/><rect x="567.55" y="67.40" width="10.00" height="3.80" fill="#f5e3c6"/><path d="M 567.55,70.50 L 567.55,67.40 L 577.55,67.40 L 577.55,70.50" fill="none" stroke="#1a1a1a" stroke-width="1"/><rect x="567.55" y="103.10" width="10.00" height="3.50" fill="#f5e3c6"/><path d="M 567.55,103.90 L 567.55,106.60 L 577.55,106.60 L 577.55,103.90" fill="none" stroke="#1a1a1a" stroke-width="1"/><rect x="596.70" y="67.40" width="10.00" height="3.80" fill="#f5e3c6"/><path d="M 596.70,70.50 L 596.70,67.40 L 606.70,67.40 L 606.70,70.50" fill="none" stroke="#1a1a1a" stroke-width="1"/><rect x="596.70" y="103.10" width="10.00" height="3.50" fill="#f5e3c6"/><path d="M 596.70,103.90 L 596.70,106.60 L 606.70,106.60 L 606.70,103.90" fill="none" stroke="#1a1a1a" stroke-width="1"/><rect x="598.50" y="67.40" width="6.40" height="3.80" fill="#f5e3c6"/><path d="M 598.50,70.50 L 598.50,67.40 L 604.90,67.40 L 604.90,70.50" fill="none" stroke="#1a1a1a" stroke-width="1"/><rect x="598.50" y="103.10" width="6.40" height="3.50" fill="#f5e3c6"/><path d="M 598.50,103.90 L 598.50,106.60 L 604.90,106.60 L 604.90,103.90" fill="none" stroke="#1a1a1a" stroke-width="1"/><rect x="618.35" y="67.40" width="6.40" height="3.80" fill="#f5e3c6"/><path d="M 618.35,70.50 L 618.35,67.40 L 624.75,67.40 L 624.75,70.50" fill="none" stroke="#1a1a1a" stroke-width="1"/><rect x="618.35" y="103.10" width="6.40" height="3.50" fill="#f5e3c6"/><path d="M 618.35,103.90 L 618.35,106.60 L 624.75,106.60 L 624.75,103.90" fill="none" stroke="#1a1a1a" stroke-width="1"/><rect x="638.20" y="67.40" width="6.40" height="3.80" fill="#f5e3c6"/><path d="M 638.20,70.50 L 638.20,67.40 L 644.60,67.40 L 644.60,70.50" fill="none" stroke="#1a1a1a" stroke-width="1"/><rect x="638.20" y="103.10" width="6.40" height="3.50" fill="#f5e3c6"/><path d="M 638.20,103.90 L 638.20,106.60 L 644.60,106.60 L 644.60,103.90" fill="none" stroke="#1a1a1a" stroke-width="1"/><rect x="666.65" y="67.40" width="8.00" height="3.80" fill="#f5e3c6"/><path d="M 666.65,70.50 L 666.65,67.40 L 674.65,67.40 L 674.65,70.50" fill="none" stroke="#1a1a1a" stroke-width="1"/><rect x="666.65" y="103.10" width="8.00" height="3.50" fill="#f5e3c6"/><path d="M 666.65,103.90 L 666.65,106.60 L 674.65,106.60 L 674.65,103.90" fill="none" stroke="#1a1a1a" stroke-width="1"/><rect x="775.00" y="66.90" width="6.00" height="4.30" fill="#f5e3c6"/><path d="M 775.00,70.50 L 775.00,66.90 L 781.00,66.90 L 781.00,70.50" fill="none" stroke="#1a1a1a" stroke-width="1"/><rect x="775.00" y="103.10" width="6.00" height="4.30" fill="#f5e3c6"/><path d="M 775.00,103.90 L 775.00,107.40 L 781.00,107.40 L 781.00,103.90" fill="none" stroke="#1a1a1a" stroke-width="1"/><rect x="794.20" y="66.90" width="6.00" height="4.30" fill="#f5e3c6"/><path d="M 794.20,70.50 L 794.20,66.90 L 800.20,66.90 L 800.20,70.50" fill="none" stroke="#1a1a1a" stroke-width="1"/><rect x="794.20" y="103.10" width="6.00" height="4.30" fill="#f5e3c6"/><path d="M 794.20,103.90 L 794.20,107.40 L 800.20,107.40 L 800.20,103.90" fill="none" stroke="#1a1a1a" stroke-width="1"/><rect x="813.60" y="66.90" width="6.00" height="4.30" fill="#f5e3c6"/><path d="M 813.60,70.50 L 813.60,66.90 L 819.60,66.90 L 819.60,70.50" fill="none" stroke="#1a1a1a" stroke-width="1"/><rect x="813.60" y="103.10" width="6.00" height="4.30" fill="#f5e3c6"/><path d="M 813.60,103.90 L 813.60,107.40 L 819.60,107.40 L 819.60,103.90" fill="none" stroke="#1a1a1a" stroke-width="1"/><rect x="757.20" y="66.90" width="4.20" height="4.30" fill="#f5e3c6"/><path d="M 757.20,70.50 L 757.20,66.90 L 761.40,66.90 L 761.40,70.50" fill="none" stroke="#1a1a1a" stroke-width="1"/><rect x="757.20" y="103.10" width="4.20" height="4.30" fill="#f5e3c6"/><path d="M 757.20,103.90 L 757.20,107.40 L 761.40,107.40 L 761.40,103.90" fill="none" stroke="#1a1a1a" stroke-width="1"/><rect x="832.70" y="66.90" width="2.80" height="4.30" fill="#f5e3c6"/><path d="M 832.70,70.50 L 832.70,66.90 L 835.50,66.90 L 835.50,70.50" fill="none" stroke="#1a1a1a" stroke-width="1"/><rect x="832.70" y="103.10" width="2.80" height="4.30" fill="#f5e3c6"/><path d="M 832.70,103.90 L 832.70,107.40 L 835.50,107.40 L 835.50,103.90" fill="none" stroke="#1a1a1a" stroke-width="1"/><rect x="393.25" y="63.40" width="11.00" height="3.00" fill="#f5e3c6"/><path d="M 393.25,65.70 L 393.25,63.40 L 404.25,63.40 L 404.25,65.70" fill="none" stroke="#1a1a1a" stroke-width="1"/><rect x="393.25" y="107.60" width="11.00" height="3.90" fill="#f5e3c6"/><path d="M 393.25,108.40 L 393.25,111.50 L 404.25,111.50 L 404.25,108.40" fill="none" stroke="#1a1a1a" stroke-width="1"/><rect x="723.10" y="63.40" width="11.00" height="3.00" fill="#f5e3c6"/><path d="M 723.10,65.70 L 723.10,63.40 L 734.10,63.40 L 734.10,65.70" fill="none" stroke="#1a1a1a" stroke-width="1"/><rect x="723.10" y="107.60" width="11.00" height="3.90" fill="#f5e3c6"/><path d="M 723.10,108.40 L 723.10,111.50 L 734.10,111.50 L 734.10,108.40" fill="none" stroke="#1a1a1a" stroke-width="1"/><rect x="369.40" y="63.80" width="5.20" height="2.60" fill="#f5e3c6"/><path d="M 369.40,65.70 L 369.40,63.80 L 374.60,63.80 L 374.60,65.70" fill="none" stroke="#1a1a1a" stroke-width="1"/><rect x="369.40" y="107.60" width="5.20" height="3.90" fill="#f5e3c6"/><path d="M 369.40,108.40 L 369.40,111.50 L 374.60,111.50 L 374.60,108.40" fill="none" stroke="#1a1a1a" stroke-width="1"/><rect x="421.00" y="63.80" width="5.80" height="2.60" fill="#f5e3c6"/><path d="M 421.00,65.70 L 421.00,63.80 L 426.80,63.80 L 426.80,65.70" fill="none" stroke="#1a1a1a" stroke-width="1"/><rect x="421.00" y="107.60" width="5.80" height="3.90" fill="#f5e3c6"/><path d="M 421.00,108.40 L 421.00,111.50 L 426.80,111.50 L 426.80,108.40" fill="none" stroke="#1a1a1a" stroke-width="1"/><rect x="699.90" y="63.80" width="5.80" height="2.60" fill="#f5e3c6"/><path d="M 699.90,65.70 L 699.90,63.80 L 705.70,63.80 L 705.70,65.70" fill="none" stroke="#1a1a1a" stroke-width="1"/><rect x="699.90" y="107.60" width="5.80" height="3.90" fill="#f5e3c6"/><path d="M 699.90,108.40 L 699.90,111.50 L 705.70,111.50 L 705.70,108.40" fill="none" stroke="#1a1a1a" stroke-width="1"/><rect x="751.40" y="63.80" width="5.80" height="2.60" fill="#f5e3c6"/><path d="M 751.40,65.70 L 751.40,63.80 L 757.20,63.80 L 757.20,65.70" fill="none" stroke="#1a1a1a" stroke-width="1"/><rect x="751.40" y="107.60" width="5.80" height="3.90" fill="#f5e3c6"/><path d="M 751.40,108.40 L 751.40,111.50 L 757.20,111.50 L 757.20,108.40" fill="none" stroke="#1a1a1a" stroke-width="1"/><rect x="426.80" y="67.40" width="5.80" height="3.80" fill="#f5e3c6"/><path d="M 426.80,70.50 L 426.80,67.40 L 432.60,67.40 L 432.60,70.50" fill="none" stroke="#1a1a1a" stroke-width="1"/><rect x="426.80" y="103.10" width="5.80" height="3.50" fill="#f5e3c6"/><path d="M 426.80,103.90 L 426.80,106.60 L 432.60,106.60 L 432.60,103.90" fill="none" stroke="#1a1a1a" stroke-width="1"/><rect x="363.70" y="67.40" width="5.80" height="3.80" fill="#f5e3c6"/><path d="M 363.70,70.50 L 363.70,67.40 L 369.50,67.40 L 369.50,70.50" fill="none" stroke="#1a1a1a" stroke-width="1"/><rect x="363.70" y="103.10" width="5.80" height="3.50" fill="#f5e3c6"/><path d="M 363.70,103.90 L 363.70,106.60 L 369.50,106.60 L 369.50,103.90" fill="none" stroke="#1a1a1a" stroke-width="1"/><path d="M 42.20,41.40 L 77.20,41.40 L 77.20,49.40 L 68.10,49.40 L 68.10,52.20 L 42.20,52.20 Z" fill="#a99ad2" stroke="#1a1a1a" stroke-width="1.0"/><text x="44.10" y="49.80" font-size="8.2" font-weight="bold" fill="#ffffff" stroke="#ffffff" stroke-width="0.25" text-anchor="start" textLength="19.0" lengthAdjust="spacingAndGlyphs">10131</text><rect x="64.60" y="46.00" width="2.80" height="2.60" fill="#f4f8ff"/><path d="M 42.20,52.20 L 68.10,52.20 L 68.10,55.50 L 71.40,55.50 L 71.40,62.30 L 42.20,62.30 Z" fill="#1b8bcc" stroke="#1a1a1a" stroke-width="1.0"/><text x="44.10" y="60.60" font-size="8.2" font-weight="bold" fill="#ffffff" stroke="#ffffff" stroke-width="0.25" text-anchor="start" textLength="19.0" lengthAdjust="spacingAndGlyphs">10133</text><rect x="64.20" y="56.30" width="3.60" height="3.50" fill="#0a0a0a"/><path d="M 42.20,62.30 L 71.40,62.30 L 71.40,68.60 L 68.10,68.60 L 68.10,72.30 L 42.20,72.30 Z" fill="#1b8bcc" stroke="#1a1a1a" stroke-width="1.0"/><text x="44.10" y="70.70" font-size="8.2" font-weight="bold" fill="#ffffff" stroke="#ffffff" stroke-width="0.25" text-anchor="start" textLength="19.0" lengthAdjust="spacingAndGlyphs">10135</text><rect x="64.60" y="66.90" width="2.80" height="2.60" fill="#f4f8ff"/><path d="M 42.20,72.30 L 68.10,72.30 L 68.10,75.60 L 71.40,75.60 L 71.40,81.50 L 42.20,81.50 Z" fill="#1b8bcc" stroke="#1a1a1a" stroke-width="1.0"/><text x="44.10" y="80.70" font-size="8.2" font-weight="bold" fill="#ffffff" stroke="#ffffff" stroke-width="0.25" text-anchor="start" textLength="19.0" lengthAdjust="spacingAndGlyphs">10137</text><rect x="64.20" y="76.40" width="3.60" height="3.50" fill="#0a0a0a"/><path d="M 42.20,81.50 L 71.40,81.50 L 71.40,92.20 L 42.20,92.20 Z" fill="#1b8bcc" stroke="#1a1a1a" stroke-width="1.0"/><text x="44.10" y="89.90" font-size="8.2" font-weight="bold" fill="#ffffff" stroke="#ffffff" stroke-width="0.25" text-anchor="start" textLength="19.0" lengthAdjust="spacingAndGlyphs">10139</text><rect x="64.60" y="86.10" width="2.80" height="2.60" fill="#f4f8ff"/><path d="M 42.20,92.20 L 71.40,92.20 L 71.40,99.90 L 68.10,99.90 L 68.10,102.30 L 42.20,102.30 Z" fill="#1b8bcc" stroke="#1a1a1a" stroke-width="1.0"/><text x="44.10" y="100.60" font-size="8.2" font-weight="bold" fill="#ffffff" stroke="#ffffff" stroke-width="0.25" text-anchor="start" textLength="19.0" lengthAdjust="spacingAndGlyphs">10176</text><rect x="64.60" y="96.80" width="2.80" height="2.60" fill="#f4f8ff"/><path d="M 42.20,102.30 L 68.10,102.30 L 68.10,105.30 L 71.40,105.30 L 71.40,112.40 L 42.20,112.40 Z" fill="#1b8bcc" stroke="#1a1a1a" stroke-width="1.0"/><text x="44.10" y="110.70" font-size="8.2" font-weight="bold" fill="#ffffff" stroke="#ffffff" stroke-width="0.25" text-anchor="start" textLength="19.0" lengthAdjust="spacingAndGlyphs">10174</text><rect x="64.60" y="106.90" width="2.80" height="2.60" fill="#f4f8ff"/><path d="M 42.20,112.40 L 71.40,112.40 L 71.40,118.50 L 68.10,118.50 L 68.10,121.30 L 42.20,121.30 Z" fill="#1b8bcc" stroke="#1a1a1a" stroke-width="1.0"/><text x="44.10" y="120.80" font-size="8.2" font-weight="bold" fill="#ffffff" stroke="#ffffff" stroke-width="0.25" text-anchor="start" textLength="19.0" lengthAdjust="spacingAndGlyphs">10172</text><rect x="64.60" y="117.00" width="2.80" height="2.60" fill="#f4f8ff"/><path d="M 42.20,121.30 L 68.10,121.30 L 68.10,125.30 L 77.20,125.30 L 77.20,132.30 L 42.20,132.30 Z" fill="#a99ad2" stroke="#1a1a1a" stroke-width="1.0"/><text x="44.10" y="129.70" font-size="8.2" font-weight="bold" fill="#ffffff" stroke="#ffffff" stroke-width="0.25" text-anchor="start" textLength="19.0" lengthAdjust="spacingAndGlyphs">10170</text><rect x="64.60" y="125.90" width="2.80" height="2.60" fill="#f4f8ff"/><line x1="26.00" y1="52.20" x2="42.20" y2="52.20" stroke="#1a1a1a" stroke-width="1.0"/><line x1="26.00" y1="62.30" x2="42.20" y2="62.30" stroke="#1a1a1a" stroke-width="1.0"/><line x1="26.00" y1="72.30" x2="42.20" y2="72.30" stroke="#1a1a1a" stroke-width="1.0"/><line x1="26.00" y1="81.50" x2="42.20" y2="81.50" stroke="#1a1a1a" stroke-width="1.0"/><line x1="26.00" y1="92.20" x2="42.20" y2="92.20" stroke="#1a1a1a" stroke-width="1.0"/><line x1="26.00" y1="102.30" x2="42.20" y2="102.30" stroke="#1a1a1a" stroke-width="1.0"/><line x1="26.00" y1="112.40" x2="42.20" y2="112.40" stroke="#1a1a1a" stroke-width="1.0"/><line x1="26.00" y1="121.30" x2="42.20" y2="121.30" stroke="#1a1a1a" stroke-width="1.0"/><line x1="229.60" y1="65.30" x2="235.20" y2="65.30" stroke="#1a1a1a" stroke-width="0.9"/><line x1="232.40" y1="64.00" x2="232.40" y2="66.60" stroke="#1a1a1a" stroke-width="0.9"/><line x1="229.60" y1="109.50" x2="235.20" y2="109.50" stroke="#1a1a1a" stroke-width="0.9"/><line x1="232.40" y1="108.20" x2="232.40" y2="110.80" stroke="#1a1a1a" stroke-width="0.9"/><line x1="269.20" y1="65.30" x2="274.80" y2="65.30" stroke="#1a1a1a" stroke-width="0.9"/><line x1="272.00" y1="64.00" x2="272.00" y2="66.60" stroke="#1a1a1a" stroke-width="0.9"/><line x1="269.20" y1="109.50" x2="274.80" y2="109.50" stroke="#1a1a1a" stroke-width="0.9"/><line x1="272.00" y1="108.20" x2="272.00" y2="110.80" stroke="#1a1a1a" stroke-width="0.9"/><line x1="327.90" y1="65.30" x2="333.50" y2="65.30" stroke="#1a1a1a" stroke-width="0.9"/><line x1="330.70" y1="64.00" x2="330.70" y2="66.60" stroke="#1a1a1a" stroke-width="0.9"/><line x1="327.90" y1="109.50" x2="333.50" y2="109.50" stroke="#1a1a1a" stroke-width="0.9"/><line x1="330.70" y1="108.20" x2="330.70" y2="110.80" stroke="#1a1a1a" stroke-width="0.9"/><line x1="775.20" y1="65.30" x2="780.80" y2="65.30" stroke="#1a1a1a" stroke-width="0.9"/><line x1="778.00" y1="64.00" x2="778.00" y2="66.60" stroke="#1a1a1a" stroke-width="0.9"/><line x1="775.20" y1="109.50" x2="780.80" y2="109.50" stroke="#1a1a1a" stroke-width="0.9"/><line x1="778.00" y1="108.20" x2="778.00" y2="110.80" stroke="#1a1a1a" stroke-width="0.9"/><line x1="813.80" y1="65.30" x2="819.40" y2="65.30" stroke="#1a1a1a" stroke-width="0.9"/><line x1="816.60" y1="64.00" x2="816.60" y2="66.60" stroke="#1a1a1a" stroke-width="0.9"/><line x1="813.80" y1="109.50" x2="819.40" y2="109.50" stroke="#1a1a1a" stroke-width="0.9"/><line x1="816.60" y1="108.20" x2="816.60" y2="110.80" stroke="#1a1a1a" stroke-width="0.9"/><rect x="130.30" y="75.20" width="88.50" height="24.20" fill="#e9e9e9" stroke="#1a1a1a" stroke-width="1.0" /><rect x="271.50" y="75.20" width="68.10" height="24.20" fill="#e9e9e9" stroke="#1a1a1a" stroke-width="1.0" /><rect x="416.70" y="75.20" width="36.00" height="24.20" fill="#e9e9e9" stroke="#1a1a1a" stroke-width="1.0" /><rect x="480.90" y="75.20" width="43.60" height="24.20" fill="#e9e9e9" stroke="#1a1a1a" stroke-width="1.0" /><rect x="601.40" y="75.20" width="5.20" height="24.30" fill="#e9e9e9" stroke="#1a1a1a" stroke-width="1.0" /><rect x="689.30" y="75.20" width="8.20" height="23.80" fill="#e9e9e9" stroke="#1a1a1a" stroke-width="1.0" /><rect x="77.20" y="75.40" width="13.30" height="23.40" fill="#fcf5e6" stroke="#1a1a1a" stroke-width="1.0" /><text transform="translate(84.15,77.20) rotate(90) scale(1.12,1)" x="0" y="0" dy="0.355em" textLength="17.32" lengthAdjust="spacingAndGlyphs" font-size="7.3" font-weight="normal" fill="#1a1a1a" stroke="#1a1a1a" stroke-width="0.2">10166</text><rect x="90.50" y="75.40" width="13.20" height="23.40" fill="#fcf5e6" stroke="#1a1a1a" stroke-width="1.0" /><text transform="translate(97.40,77.20) rotate(90) scale(1.12,1)" x="0" y="0" dy="0.355em" textLength="17.32" lengthAdjust="spacingAndGlyphs" font-size="7.3" font-weight="normal" fill="#1a1a1a" stroke="#1a1a1a" stroke-width="0.2">10160</text><rect x="103.70" y="75.40" width="13.30" height="23.40" fill="#fcf5e6" stroke="#1a1a1a" stroke-width="1.0" /><text transform="translate(110.65,77.20) rotate(90) scale(1.12,1)" x="0" y="0" dy="0.355em" textLength="17.32" lengthAdjust="spacingAndGlyphs" font-size="7.3" font-weight="normal" fill="#1a1a1a" stroke="#1a1a1a" stroke-width="0.2">10158</text><rect x="117.00" y="75.40" width="13.30" height="23.40" fill="#fcf5e6" stroke="#1a1a1a" stroke-width="1.0" /><text transform="translate(123.95,77.20) rotate(90) scale(1.12,1)" x="0" y="0" dy="0.355em" textLength="17.32" lengthAdjust="spacingAndGlyphs" font-size="7.3" font-weight="normal" fill="#1a1a1a" stroke="#1a1a1a" stroke-width="0.2">10152</text><rect x="218.80" y="75.40" width="13.60" height="23.40" fill="#fcf5e6" stroke="#1a1a1a" stroke-width="1.0" /><text transform="translate(225.90,77.20) rotate(90) scale(1.12,1)" x="0" y="0" dy="0.355em" textLength="17.32" lengthAdjust="spacingAndGlyphs" font-size="7.3" font-weight="normal" fill="#1a1a1a" stroke="#1a1a1a" stroke-width="0.2">10138</text><rect x="232.40" y="75.40" width="12.80" height="23.40" fill="#fcf5e6" stroke="#1a1a1a" stroke-width="1.0" /><text transform="translate(239.10,77.20) rotate(90) scale(1.12,1)" x="0" y="0" dy="0.355em" textLength="17.32" lengthAdjust="spacingAndGlyphs" font-size="7.3" font-weight="normal" fill="#1a1a1a" stroke="#1a1a1a" stroke-width="0.2">10132</text><rect x="245.20" y="75.40" width="13.20" height="23.40" fill="#fcf5e6" stroke="#1a1a1a" stroke-width="1.0" /><text transform="translate(252.10,77.20) rotate(90) scale(1.12,1)" x="0" y="0" dy="0.355em" textLength="17.32" lengthAdjust="spacingAndGlyphs" font-size="7.3" font-weight="normal" fill="#1a1a1a" stroke="#1a1a1a" stroke-width="0.2">10128</text><rect x="258.40" y="75.40" width="13.10" height="23.40" fill="#fcf5e6" stroke="#1a1a1a" stroke-width="1.0" /><text transform="translate(265.25,77.20) rotate(90) scale(1.12,1)" x="0" y="0" dy="0.355em" textLength="17.32" lengthAdjust="spacingAndGlyphs" font-size="7.3" font-weight="normal" fill="#1a1a1a" stroke="#1a1a1a" stroke-width="0.2">10124</text><rect x="453.30" y="75.40" width="14.00" height="23.40" fill="#fcf5e6" stroke="#1a1a1a" stroke-width="1.0" /><text transform="translate(460.60,77.20) rotate(90) scale(1.12,1)" x="0" y="0" dy="0.355em" textLength="17.32" lengthAdjust="spacingAndGlyphs" font-size="7.3" font-weight="normal" fill="#1a1a1a" stroke="#1a1a1a" stroke-width="0.2">10088</text><rect x="467.30" y="75.40" width="13.60" height="23.40" fill="#fcf5e6" stroke="#1a1a1a" stroke-width="1.0" /><text transform="translate(474.40,77.20) rotate(90) scale(1.12,1)" x="0" y="0" dy="0.355em" textLength="17.32" lengthAdjust="spacingAndGlyphs" font-size="7.3" font-weight="normal" fill="#1a1a1a" stroke="#1a1a1a" stroke-width="0.2">10084</text><rect x="524.50" y="75.40" width="12.80" height="23.40" fill="#fcf5e6" stroke="#1a1a1a" stroke-width="1.0" /><text transform="translate(531.20,77.20) rotate(90) scale(1.12,1)" x="0" y="0" dy="0.355em" textLength="17.32" lengthAdjust="spacingAndGlyphs" font-size="7.3" font-weight="normal" fill="#1a1a1a" stroke="#1a1a1a" stroke-width="0.2">10074</text><rect x="537.30" y="75.40" width="13.20" height="23.40" fill="#fcf5e6" stroke="#1a1a1a" stroke-width="1.0" /><text transform="translate(544.20,77.20) rotate(90) scale(1.12,1)" x="0" y="0" dy="0.355em" textLength="17.32" lengthAdjust="spacingAndGlyphs" font-size="7.3" font-weight="normal" fill="#1a1a1a" stroke="#1a1a1a" stroke-width="0.2">10070</text><rect x="550.50" y="75.40" width="12.80" height="23.40" fill="#fcf5e6" stroke="#1a1a1a" stroke-width="1.0" /><text transform="translate(557.20,77.20) rotate(90) scale(1.12,1)" x="0" y="0" dy="0.355em" textLength="17.32" lengthAdjust="spacingAndGlyphs" font-size="7.3" font-weight="normal" fill="#1a1a1a" stroke="#1a1a1a" stroke-width="0.2">10066</text><rect x="563.30" y="75.40" width="12.80" height="23.40" fill="#fcf5e6" stroke="#1a1a1a" stroke-width="1.0" /><text transform="translate(570.00,77.20) rotate(90) scale(1.12,1)" x="0" y="0" dy="0.355em" textLength="17.32" lengthAdjust="spacingAndGlyphs" font-size="7.3" font-weight="normal" fill="#1a1a1a" stroke="#1a1a1a" stroke-width="0.2">10064</text><rect x="576.10" y="75.40" width="12.90" height="23.40" fill="#fcf5e6" stroke="#1a1a1a" stroke-width="1.0" /><text transform="translate(582.85,77.20) rotate(90) scale(1.12,1)" x="0" y="0" dy="0.355em" textLength="17.32" lengthAdjust="spacingAndGlyphs" font-size="7.3" font-weight="normal" fill="#1a1a1a" stroke="#1a1a1a" stroke-width="0.2">10058</text><rect x="589.00" y="75.40" width="12.40" height="23.40" fill="#fcf5e6" stroke="#1a1a1a" stroke-width="1.0" /><text transform="translate(595.50,77.20) rotate(90) scale(1.12,1)" x="0" y="0" dy="0.355em" textLength="17.32" lengthAdjust="spacingAndGlyphs" font-size="7.3" font-weight="normal" fill="#1a1a1a" stroke="#1a1a1a" stroke-width="0.2">10056</text><rect x="606.60" y="75.40" width="14.90" height="23.40" fill="#fcf5e6" stroke="#1a1a1a" stroke-width="1.0" /><text transform="translate(614.35,77.20) rotate(90) scale(1.12,1)" x="0" y="0" dy="0.355em" textLength="17.32" lengthAdjust="spacingAndGlyphs" font-size="7.3" font-weight="normal" fill="#1a1a1a" stroke="#1a1a1a" stroke-width="0.2">10050</text><rect x="621.50" y="75.40" width="14.00" height="23.40" fill="#fcf5e6" stroke="#1a1a1a" stroke-width="1.0" /><text transform="translate(628.80,77.20) rotate(90) scale(1.12,1)" x="0" y="0" dy="0.355em" textLength="17.32" lengthAdjust="spacingAndGlyphs" font-size="7.3" font-weight="normal" fill="#1a1a1a" stroke="#1a1a1a" stroke-width="0.2">10044</text><rect x="635.50" y="75.40" width="13.20" height="23.40" fill="#fcf5e6" stroke="#1a1a1a" stroke-width="1.0" /><text transform="translate(642.40,77.20) rotate(90) scale(1.12,1)" x="0" y="0" dy="0.355em" textLength="17.32" lengthAdjust="spacingAndGlyphs" font-size="7.3" font-weight="normal" fill="#1a1a1a" stroke="#1a1a1a" stroke-width="0.2">10040</text><rect x="648.70" y="75.40" width="13.00" height="23.40" fill="#fcf5e6" stroke="#1a1a1a" stroke-width="1.0" /><text transform="translate(655.50,77.20) rotate(90) scale(1.12,1)" x="0" y="0" dy="0.355em" textLength="17.32" lengthAdjust="spacingAndGlyphs" font-size="7.3" font-weight="normal" fill="#1a1a1a" stroke="#1a1a1a" stroke-width="0.2">10036</text><rect x="661.70" y="75.40" width="15.50" height="23.40" fill="#fcf5e6" stroke="#1a1a1a" stroke-width="1.0" /><text transform="translate(669.75,77.20) rotate(90) scale(1.12,1)" x="0" y="0" dy="0.355em" textLength="17.32" lengthAdjust="spacingAndGlyphs" font-size="7.3" font-weight="normal" fill="#1a1a1a" stroke="#1a1a1a" stroke-width="0.2">10032</text><rect x="677.20" y="75.40" width="12.10" height="23.40" fill="#fcf5e6" stroke="#1a1a1a" stroke-width="1.0" /><text transform="translate(683.55,77.20) rotate(90) scale(1.12,1)" x="0" y="0" dy="0.355em" textLength="17.32" lengthAdjust="spacingAndGlyphs" font-size="7.3" font-weight="normal" fill="#1a1a1a" stroke="#1a1a1a" stroke-width="0.2">10028</text><line x1="114.20" y1="96.40" x2="119.80" y2="96.40" stroke="#1a1a1a" stroke-width="0.9"/><line x1="117.00" y1="95.00" x2="117.00" y2="97.80" stroke="#1a1a1a" stroke-width="0.9"/><line x1="242.40" y1="96.40" x2="248.00" y2="96.40" stroke="#1a1a1a" stroke-width="0.9"/><line x1="245.20" y1="95.00" x2="245.20" y2="97.80" stroke="#1a1a1a" stroke-width="0.9"/><line x1="547.70" y1="96.40" x2="553.30" y2="96.40" stroke="#1a1a1a" stroke-width="0.9"/><line x1="550.50" y1="95.00" x2="550.50" y2="97.80" stroke="#1a1a1a" stroke-width="0.9"/><rect x="757.00" y="74.90" width="118.50" height="24.50" fill="#e9e9e9" stroke="#1a1a1a" stroke-width="1.0" /><line x1="412.10" y1="74.90" x2="416.70" y2="74.90" stroke="#1a1a1a" stroke-width="1.0"/><line x1="412.10" y1="99.30" x2="416.70" y2="99.30" stroke="#1a1a1a" stroke-width="1.0"/><rect x="348.10" y="76.00" width="8.70" height="21.70" fill="#b9aa90" stroke="none" stroke-width="0" /><line x1="347.30" y1="81.70" x2="357.80" y2="81.70" stroke="#9c8a6c" stroke-width="0.9"/><line x1="347.30" y1="92.50" x2="357.80" y2="92.50" stroke="#9c8a6c" stroke-width="0.9"/><line x1="358.30" y1="76.00" x2="358.30" y2="97.70" stroke="#c8b898" stroke-width="0.6"/><line x1="340.50" y1="75.40" x2="367.80" y2="75.40" stroke="#a89474" stroke-width="0.9"/><line x1="340.50" y1="99.30" x2="367.80" y2="99.30" stroke="#a89474" stroke-width="0.9"/><line x1="342.60" y1="75.40" x2="342.60" y2="99.30" stroke="#bca988" stroke-width="0.7"/><rect x="372.60" y="70.50" width="35.00" height="10.80" fill="#ffffff" stroke="#1a1a1a" stroke-width="1.4" /><rect x="373.60" y="72.70" width="10.00" height="8.10" fill="#f1e2c6" stroke="#1a1a1a" stroke-width="1.0" /><line x1="374.40" y1="73.50" x2="382.80" y2="80.00" stroke="#3a3028" stroke-width="0.7"/><line x1="382.80" y1="73.50" x2="374.40" y2="80.00" stroke="#3a3028" stroke-width="0.7"/><rect x="383.60" y="72.70" width="10.00" height="8.10" fill="#f1e2c6" stroke="#1a1a1a" stroke-width="1.0" /><line x1="384.40" y1="73.50" x2="392.80" y2="80.00" stroke="#3a3028" stroke-width="0.7"/><line x1="392.80" y1="73.50" x2="384.40" y2="80.00" stroke="#3a3028" stroke-width="0.7"/><rect x="393.60" y="72.70" width="10.00" height="8.10" fill="#f1e2c6" stroke="#1a1a1a" stroke-width="1.0" /><line x1="394.40" y1="73.50" x2="402.80" y2="80.00" stroke="#3a3028" stroke-width="0.7"/><line x1="402.80" y1="73.50" x2="394.40" y2="80.00" stroke="#3a3028" stroke-width="0.7"/><rect x="372.60" y="92.20" width="35.00" height="11.20" fill="#ffffff" stroke="#1a1a1a" stroke-width="1.4" /><rect x="373.60" y="92.90" width="10.00" height="9.30" fill="#f1e2c6" stroke="#1a1a1a" stroke-width="1.0" /><line x1="374.40" y1="93.70" x2="382.80" y2="101.40" stroke="#3a3028" stroke-width="0.7"/><line x1="382.80" y1="93.70" x2="374.40" y2="101.40" stroke="#3a3028" stroke-width="0.7"/><rect x="383.60" y="92.90" width="10.00" height="9.30" fill="#f1e2c6" stroke="#1a1a1a" stroke-width="1.0" /><line x1="384.40" y1="93.70" x2="392.80" y2="101.40" stroke="#3a3028" stroke-width="0.7"/><line x1="392.80" y1="93.70" x2="384.40" y2="101.40" stroke="#3a3028" stroke-width="0.7"/><rect x="393.60" y="92.90" width="10.00" height="9.30" fill="#f1e2c6" stroke="#1a1a1a" stroke-width="1.0" /><line x1="394.40" y1="93.70" x2="402.80" y2="101.40" stroke="#3a3028" stroke-width="0.7"/><line x1="402.80" y1="93.70" x2="394.40" y2="101.40" stroke="#3a3028" stroke-width="0.7"/><line x1="373.20" y1="70.50" x2="373.20" y2="103.40" stroke="#1a1a1a" stroke-width="1.8"/><line x1="407.60" y1="75.30" x2="409.00" y2="75.30" stroke="#1a1a1a" stroke-width="0.9"/><line x1="407.60" y1="99.50" x2="409.00" y2="99.50" stroke="#1a1a1a" stroke-width="0.9"/><rect x="368.30" y="80.30" width="13.10" height="13.00" fill="#ffffff" stroke="#1a1a1a" stroke-width="1.0" /><text transform="translate(374.9,84.6) rotate(90)" x="0" y="0" dy="0.36em" font-size="11" textLength="6.0" lengthAdjust="spacingAndGlyphs" font-weight="bold" fill="#1a2550">B</text><rect x="743.50" y="76.00" width="7.50" height="22.40" fill="#b9aa90" stroke="none" stroke-width="0" /><line x1="744.60" y1="76.00" x2="744.60" y2="98.40" stroke="#8f7e62" stroke-width="0.9"/><line x1="750.40" y1="76.00" x2="750.40" y2="98.40" stroke="#8f7e62" stroke-width="0.9"/><line x1="742.80" y1="81.70" x2="751.50" y2="81.70" stroke="#9c8a6c" stroke-width="0.8"/><line x1="744.70" y1="92.40" x2="751.00" y2="92.40" stroke="#1a1a1a" stroke-width="0.9"/><line x1="735.30" y1="75.40" x2="756.70" y2="75.40" stroke="#a89474" stroke-width="0.9"/><line x1="735.30" y1="99.30" x2="756.70" y2="99.30" stroke="#a89474" stroke-width="0.9"/><rect x="708.60" y="70.50" width="22.30" height="11.20" fill="#ffffff" stroke="#1a1a1a" stroke-width="1.4" /><rect x="710.40" y="72.60" width="9.75" height="8.50" fill="#f1e2c6" stroke="#1a1a1a" stroke-width="1.0" /><line x1="711.20" y1="73.40" x2="719.35" y2="80.30" stroke="#3a3028" stroke-width="0.7"/><line x1="719.35" y1="73.40" x2="711.20" y2="80.30" stroke="#3a3028" stroke-width="0.7"/><rect x="720.15" y="72.60" width="9.75" height="8.50" fill="#f1e2c6" stroke="#1a1a1a" stroke-width="1.0" /><line x1="720.95" y1="73.40" x2="729.10" y2="80.30" stroke="#3a3028" stroke-width="0.7"/><line x1="729.10" y1="73.40" x2="720.95" y2="80.30" stroke="#3a3028" stroke-width="0.7"/><rect x="708.60" y="93.30" width="22.30" height="11.30" fill="#ffffff" stroke="#1a1a1a" stroke-width="1.4" /><rect x="710.40" y="94.00" width="9.75" height="8.20" fill="#f1e2c6" stroke="#1a1a1a" stroke-width="1.0" /><line x1="711.20" y1="94.80" x2="719.35" y2="101.40" stroke="#3a3028" stroke-width="0.7"/><line x1="719.35" y1="94.80" x2="711.20" y2="101.40" stroke="#3a3028" stroke-width="0.7"/><rect x="720.15" y="94.00" width="9.75" height="8.20" fill="#f1e2c6" stroke="#1a1a1a" stroke-width="1.0" /><line x1="720.95" y1="94.80" x2="729.10" y2="101.40" stroke="#3a3028" stroke-width="0.7"/><line x1="729.10" y1="94.80" x2="720.95" y2="101.40" stroke="#3a3028" stroke-width="0.7"/><line x1="701.00" y1="75.40" x2="708.20" y2="75.40" stroke="#1a1a1a" stroke-width="1.0"/><line x1="701.00" y1="99.30" x2="708.20" y2="99.30" stroke="#1a1a1a" stroke-width="1.0"/><line x1="730.90" y1="75.40" x2="732.00" y2="75.40" stroke="#1a1a1a" stroke-width="0.9"/><line x1="730.90" y1="99.30" x2="732.00" y2="99.30" stroke="#1a1a1a" stroke-width="0.9"/><rect x="732.40" y="80.10" width="12.30" height="13.60" fill="#ffffff" stroke="#1a1a1a" stroke-width="1.0" /><text transform="translate(738.9,83.8) rotate(90)" x="0" y="0" dy="0.36em" font-size="11.5" textLength="7.0" lengthAdjust="spacingAndGlyphs" font-weight="bold" fill="#1a2550">A</text><rect x="864.30" y="40.80" width="14.80" height="29.60" fill="#e6e6e6" stroke="#1a1a1a" stroke-width="1.0" /><rect x="879.10" y="40.80" width="21.50" height="36.30" fill="#e6e6e6" stroke="#1a1a1a" stroke-width="1.0" /><line x1="874.50" y1="33.30" x2="874.50" y2="40.80" stroke="#1a1a1a" stroke-width="1.0"/><line x1="893.50" y1="33.30" x2="893.50" y2="40.80" stroke="#1a1a1a" stroke-width="1.0"/><line x1="864.30" y1="40.80" x2="900.60" y2="40.80" stroke="#1a1a1a" stroke-width="1.0"/><rect x="864.50" y="104.70" width="14.90" height="27.90" fill="#e6e6e6" stroke="#1a1a1a" stroke-width="1.0" /><path d="M 879.4,92.3 L 892.4,92.3 L 892.4,87.4 L 900.6,87.4 L 900.6,132.6 L 879.4,132.6 Z" fill="#e6e6e6" stroke="#1a1a1a" stroke-width="1"/><rect x="879.40" y="81.50" width="13.00" height="10.80" fill="#e6e6e6" stroke="#1a1a1a" stroke-width="1.0" /><line x1="874.50" y1="132.60" x2="874.50" y2="141.40" stroke="#1a1a1a" stroke-width="1.0"/><line x1="893.50" y1="132.60" x2="893.50" y2="141.40" stroke="#1a1a1a" stroke-width="1.0"/><line x1="864.30" y1="132.60" x2="900.60" y2="132.60" stroke="#1a1a1a" stroke-width="1.0"/><rect x="916.40" y="80.50" width="13.40" height="12.90" fill="#ffffff" stroke="#1a1a1a" stroke-width="1.3" /><text transform="translate(923.5,81.8) rotate(90)" x="0" y="0" dy="0.36em" font-size="10.4" textLength="10.2" lengthAdjust="spacingAndGlyphs" font-weight="bold" fill="#1a1a30">27</text></svg>
<div style="position:absolute;left:52.60px;top:188.20px;font-size:16px;line-height:18px;font-weight:bold;color:#111;white-space:nowrap;transform:scale(1,0.87);transform-origin:0 0">Hutcategorie</div><div style="position:absolute;left:52px;top:211px;width:38px;height:20px;background:#9e75b8"></div><div style="position:absolute;left:52px;top:212px;width:38px;height:20px;line-height:20px;text-align:center;font-size:10px;font-weight:normal;color:#fff;letter-spacing:0.7px;text-indent:0.7px">10000</div><div style="position:absolute;left:102.30px;top:213.90px;font-size:16px;line-height:18px;color:#1c1c1c;white-space:nowrap;transform:scaleX(0.965);transform-origin:0 0;">Themen suite</div><div style="position:absolute;left:52px;top:236px;width:38px;height:20px;background:#b0559a"></div><div style="position:absolute;left:52px;top:237px;width:38px;height:20px;line-height:20px;text-align:center;font-size:10px;font-weight:normal;color:#fff;letter-spacing:0.7px;text-indent:0.7px">14000</div><div style="position:absolute;left:101.80px;top:238.80px;font-size:16px;line-height:18px;color:#1c1c1c;white-space:nowrap;transform:scaleX(0.965);transform-origin:0 0;">Hemel &amp; zee suite</div><div style="position:absolute;left:52px;top:261px;width:38px;height:20px;background:#f39ac5"></div><div style="position:absolute;left:52px;top:262px;width:38px;height:20px;line-height:20px;text-align:center;font-size:10px;font-weight:bold;color:#3a0a20;letter-spacing:0.7px;text-indent:0.7px">10105</div><div style="position:absolute;left:101.40px;top:262.40px;font-size:16px;line-height:18px;color:#1c1c1c;white-space:nowrap;transform:scaleX(0.965);transform-origin:0 0;">Junior suite met balkon</div><div style="position:absolute;left:52px;top:286px;width:38px;height:20px;background:#c0e2d4"></div><div style="position:absolute;left:52px;top:287px;width:38px;height:20px;line-height:20px;text-align:center;font-size:10px;font-weight:bold;color:#111;letter-spacing:0.7px;text-indent:0.7px">6176</div><div style="position:absolute;left:90px;top:287.8px;width:186px;height:22px;overflow:hidden"><div style="position:absolute;left:12.10px;top:2px;font-size:16px;line-height:18px;color:#1c1c1c;white-space:nowrap;transform:scaleX(0.965);transform-origin:0 0">Familiehut veranda deluxe</div></div><div style="position:absolute;left:52px;top:311px;width:38px;height:20px;background:#7dbb3c"></div><div style="position:absolute;left:52px;top:312px;width:38px;height:20px;line-height:20px;text-align:center;font-size:10px;font-weight:bold;color:#111;letter-spacing:0.7px;text-indent:0.7px">6005</div><div style="position:absolute;left:101.80px;top:313.90px;font-size:16px;line-height:18px;color:#1c1c1c;white-space:nowrap;transform:scaleX(0.965);transform-origin:0 0;">Familiehut met balkon</div><div style="position:absolute;left:52px;top:336px;width:38px;height:20px;background:#a6d29a"></div><div style="position:absolute;left:52px;top:337px;width:38px;height:20px;line-height:20px;text-align:center;font-size:10px;font-weight:bold;color:#111;letter-spacing:0.7px;text-indent:0.7px">8002</div><div style="position:absolute;left:101.80px;top:339.80px;font-size:16px;line-height:18px;color:#1c1c1c;white-space:nowrap;transform:scaleX(0.965);transform-origin:0 0;">Familiehut cat. A</div><div style="position:absolute;left:52px;top:361px;width:38px;height:20px;background:#5cb98a"></div><div style="position:absolute;left:52px;top:362px;width:38px;height:20px;line-height:20px;text-align:center;font-size:10px;font-weight:normal;color:#fff;letter-spacing:0.7px;text-indent:0.7px">7000</div><div style="position:absolute;left:101.80px;top:363.90px;font-size:16px;line-height:18px;color:#1c1c1c;white-space:nowrap;transform:scaleX(0.965);transform-origin:0 0;">Familiehut cat. B</div><div style="position:absolute;left:52px;top:386px;width:38px;height:20px;background:#9c8fca"></div><div style="position:absolute;left:52px;top:387px;width:38px;height:20px;line-height:20px;text-align:center;font-size:10px;font-weight:normal;color:#fff;letter-spacing:0.7px;text-indent:0.7px">8187</div><div style="position:absolute;left:103.00px;top:389.80px;font-size:16px;line-height:18px;color:#1c1c1c;white-space:nowrap;transform:scaleX(0.965);transform-origin:0 0;">Premium verandahut</div><div style="position:absolute;left:52px;top:411px;width:38px;height:20px;background:#dde9f7"></div><div style="position:absolute;left:52px;top:412px;width:38px;height:20px;line-height:20px;text-align:center;font-size:10px;font-weight:bold;color:#111;letter-spacing:0.7px;text-indent:0.7px">11000</div><div style="position:absolute;left:102.80px;top:412.70px;font-size:16px;line-height:18px;color:#1c1c1c;white-space:nowrap;transform:scaleX(0.965);transform-origin:0 0;">Spahut met balkon</div><div style="position:absolute;left:52px;top:436px;width:38px;height:20px;background:#8ecaae"></div><div style="position:absolute;left:52px;top:437px;width:38px;height:20px;line-height:20px;text-align:center;font-size:10px;font-weight:bold;color:#111;letter-spacing:0.7px;text-indent:0.7px">7201</div><div style="position:absolute;left:101.80px;top:438.60px;font-size:16px;line-height:18px;color:#1c1c1c;white-space:nowrap;transform:scaleX(0.965);transform-origin:0 0;">Combi balkonhut</div><div style="position:absolute;left:52px;top:461px;width:38px;height:20px;background:#1b8bcc"></div><div style="position:absolute;left:52px;top:462px;width:38px;height:20px;line-height:20px;text-align:center;font-size:10px;font-weight:normal;color:#fff;letter-spacing:0.7px;text-indent:0.7px">10003</div><div style="position:absolute;left:104.00px;top:463.90px;font-size:16px;line-height:18px;color:#1c1c1c;white-space:nowrap;transform:scaleX(0.965);transform-origin:0 0;">Balkonhut cat. A</div><div style="position:absolute;left:52px;top:486px;width:38px;height:20px;background:#7ccdf0"></div><div style="position:absolute;left:52px;top:487px;width:38px;height:20px;line-height:20px;text-align:center;font-size:10px;font-weight:bold;color:#111;letter-spacing:0.7px;text-indent:0.7px">11020</div><div style="position:absolute;left:104.00px;top:487.40px;font-size:16px;line-height:18px;color:#1c1c1c;white-space:nowrap;transform:scaleX(0.965);transform-origin:0 0;">Balkonhut cat. B</div><div style="position:absolute;left:52px;top:511px;width:38px;height:20px;background:#cfd8ee"></div><div style="position:absolute;left:52px;top:512px;width:38px;height:20px;line-height:20px;text-align:center;font-size:10px;font-weight:bold;color:#111;letter-spacing:0.7px;text-indent:0.7px">11120</div><div style="position:absolute;left:104.00px;top:512.10px;font-size:16px;line-height:18px;color:#1c1c1c;white-space:nowrap;transform:scaleX(0.965);transform-origin:0 0;">Balkonhut cat. C</div><div style="position:absolute;left:52px;top:536px;width:38px;height:20px;background:#17a3a0"></div><div style="position:absolute;left:52px;top:537px;width:38px;height:20px;line-height:20px;text-align:center;font-size:10px;font-weight:normal;color:#fff;letter-spacing:0.7px;text-indent:0.7px">8040</div><div style="position:absolute;left:104.00px;top:538.00px;font-size:16px;line-height:18px;color:#1c1c1c;white-space:nowrap;transform:scaleX(0.965);transform-origin:0 0;">Balkonhut cat. D</div><div style="position:absolute;left:52px;top:561px;width:38px;height:20px;background:#9cc0e4"></div><div style="position:absolute;left:52px;top:562px;width:38px;height:20px;line-height:20px;text-align:center;font-size:10px;font-weight:bold;color:#111;letter-spacing:0.7px;text-indent:0.7px">7040</div><div style="position:absolute;left:104.00px;top:562.10px;font-size:16px;line-height:18px;color:#1c1c1c;white-space:nowrap;transform:scaleX(0.965);transform-origin:0 0;">Balkonhut cat. E</div><div style="position:absolute;left:52px;top:586px;width:38px;height:20px;background:#55bcd2"></div><div style="position:absolute;left:52px;top:587px;width:38px;height:20px;line-height:20px;text-align:center;font-size:10px;font-weight:bold;color:#111;letter-spacing:0.7px;text-indent:0.7px">7020</div><div style="position:absolute;left:105.20px;top:588.00px;font-size:16px;line-height:18px;color:#1c1c1c;white-space:nowrap;transform:scaleX(0.965);transform-origin:0 0;">Balkonhut cat. F</div><div style="position:absolute;left:52px;top:611px;width:38px;height:20px;background:#5575bb"></div><div style="position:absolute;left:52px;top:612px;width:38px;height:20px;line-height:20px;text-align:center;font-size:10px;font-weight:normal;color:#fff;letter-spacing:0.7px;text-indent:0.7px">6010</div><div style="position:absolute;left:105.20px;top:613.00px;font-size:16px;line-height:18px;color:#1c1c1c;white-space:nowrap;transform:scaleX(0.965);transform-origin:0 0;">Balkonhut cat. G</div><div style="position:absolute;left:52px;top:636px;width:38px;height:20px;background:#7890bb"></div><div style="position:absolute;left:52px;top:637px;width:38px;height:20px;line-height:20px;text-align:center;font-size:10px;font-weight:normal;color:#fff;letter-spacing:0.7px;text-indent:0.7px">6068</div><div style="position:absolute;left:105.20px;top:638.60px;font-size:16px;line-height:18px;color:#1c1c1c;white-space:nowrap;transform:scaleX(0.965);transform-origin:0 0;">Balkonhut cat. H</div><div style="position:absolute;left:52px;top:661px;width:38px;height:20px;background:#bba882"></div><div style="position:absolute;left:52px;top:662px;width:38px;height:20px;line-height:20px;text-align:center;font-size:10px;font-weight:normal;color:#fff;letter-spacing:0.7px;text-indent:0.7px">8000</div><div style="position:absolute;left:106.00px;top:663.90px;font-size:16px;line-height:18px;color:#1c1c1c;white-space:nowrap;transform:scaleX(0.965);transform-origin:0 0;">Buitenhut cat. A</div><div style="position:absolute;left:52px;top:686px;width:38px;height:20px;background:#cf9577"></div><div style="position:absolute;left:52px;top:687px;width:38px;height:20px;line-height:20px;text-align:center;font-size:10px;font-weight:bold;color:#111;letter-spacing:0.7px;text-indent:0.7px">3125</div><div style="position:absolute;left:106.00px;top:688.00px;font-size:16px;line-height:18px;color:#1c1c1c;white-space:nowrap;transform:scaleX(0.965);transform-origin:0 0;">Buitenhut cat. B</div><div style="position:absolute;left:52px;top:711px;width:38px;height:20px;background:#f3e6d6"></div><div style="position:absolute;left:52px;top:712px;width:38px;height:20px;line-height:20px;text-align:center;font-size:10px;font-weight:bold;color:#111;letter-spacing:0.7px;text-indent:0.7px">11060</div><div style="position:absolute;left:105.70px;top:713.90px;font-size:16px;line-height:18px;color:#1c1c1c;white-space:nowrap;transform:scaleX(0.965);transform-origin:0 0;">Binnenhut cat. A</div><div style="position:absolute;left:52px;top:736px;width:38px;height:20px;background:#ffe50a"></div><div style="position:absolute;left:52px;top:737px;width:38px;height:20px;line-height:20px;text-align:center;font-size:10px;font-weight:bold;color:#111;letter-spacing:0.7px;text-indent:0.7px">8220</div><div style="position:absolute;left:104.80px;top:738.80px;font-size:16px;line-height:18px;color:#1c1c1c;white-space:nowrap;transform:scaleX(0.965);transform-origin:0 0;">Binnenhut cat. B</div><div style="position:absolute;left:52px;top:761px;width:38px;height:20px;background:#f8b81c"></div><div style="position:absolute;left:52px;top:762px;width:38px;height:20px;line-height:20px;text-align:center;font-size:10px;font-weight:bold;color:#111;letter-spacing:0.7px;text-indent:0.7px">6001</div><div style="position:absolute;left:105.70px;top:762.90px;font-size:16px;line-height:18px;color:#1c1c1c;white-space:nowrap;transform:scaleX(0.965);transform-origin:0 0;">Binnenhut cat. C</div><div style="position:absolute;left:304.80px;top:185.80px;font-size:16px;line-height:18px;font-weight:bold;color:#111;white-space:nowrap;transform:scale(1,0.87);transform-origin:0 0">Legenda</div><div style="position:absolute;left:303.2px;top:212.3px;width:50px;height:24.69999999999999px;background:#c8a597"></div><div style="position:absolute;left:376.10px;top:215.60px;font-size:16px;line-height:18px;color:#1c1c1c;white-space:nowrap;transform:scaleX(0.965);transform-origin:0 0;">Restaurant</div><div style="position:absolute;left:303.2px;top:243.3px;width:50px;height:24.0px;background:#dde7a1"></div><div style="position:absolute;left:376.10px;top:251.80px;font-size:16px;line-height:18px;color:#1c1c1c;white-space:nowrap;transform:scaleX(0.965);transform-origin:0 0;">Bar</div><div style="position:absolute;left:303.2px;top:275px;width:50px;height:25px;background:#a9d1bb"></div><div style="position:absolute;left:375.00px;top:281.40px;font-size:16px;line-height:18px;color:#1c1c1c;white-space:nowrap;transform:scaleX(0.965);transform-origin:0 0;">Spa &amp; sport</div><div style="position:absolute;left:303.2px;top:306px;width:50px;height:24.5px;background:#f6eca2"></div><div style="position:absolute;left:375.00px;top:312.70px;font-size:16px;line-height:18px;color:#1c1c1c;white-space:nowrap;transform:scaleX(0.965);transform-origin:0 0;">Theater</div><div style="position:absolute;left:303.2px;top:337.4px;width:50px;height:24.400000000000034px;background:#e2e2e2"></div><div style="position:absolute;left:375.00px;top:345.80px;font-size:16px;line-height:18px;color:#1c1c1c;white-space:nowrap;transform:scaleX(0.979);transform-origin:0 0;">Conferentieruimte</div><div style="position:absolute;left:303.2px;top:368.4px;width:50px;height:24.600000000000023px;background:#a3a3a6"></div><div style="position:absolute;left:377.00px;top:374.80px;font-size:16px;line-height:18px;color:#1c1c1c;white-space:nowrap;transform:scaleX(0.965);transform-origin:0 0;">Keuken</div><div style="position:absolute;left:582.10px;top:218.70px;font-size:16px;line-height:18px;color:#1c1c1c;white-space:nowrap;transform:scaleX(0.979);transform-origin:0 0;">toegankelijk voor mindervaliden</div><div style="position:absolute;left:570px;top:251.8px;width:200px;height:16.6px;overflow:hidden"><div style="position:absolute;left:13.50px;top:2px;font-size:16px;line-height:18px;color:#1c1c1c;white-space:nowrap;transform:scaleX(0.965);transform-origin:0 0">Verbindingsdeur</div></div><div style="position:absolute;left:583.00px;top:283.30px;font-size:16px;line-height:18px;color:#1c1c1c;white-space:nowrap;transform:scaleX(0.965);transform-origin:0 0;">Slaapbank</div><div style="position:absolute;left:583.00px;top:314.90px;font-size:16px;line-height:18px;color:#1c1c1c;white-space:nowrap;transform:scaleX(0.965);transform-origin:0 0;">Dubbelbedbank</div><div style="position:absolute;left:584.20px;top:347.60px;font-size:16px;line-height:18px;color:#1c1c1c;white-space:nowrap;transform:scaleX(0.965);transform-origin:0 0;">1 pullman-bed</div><div style="position:absolute;left:582.80px;top:378.70px;font-size:16px;line-height:18px;color:#1c1c1c;white-space:nowrap;transform:scaleX(0.965);transform-origin:0 0;">2 pullman-bedden</div><div style="position:absolute;left:584.20px;top:405.00px;font-size:16px;line-height:18px;color:#1c1c1c;white-space:nowrap;transform:scaleX(0.978);transform-origin:0 0;">Hut met Patrijsport</div><div style="position:absolute;left:582.00px;top:434.00px;font-size:16px;line-height:18px;color:#1c1c1c;white-space:nowrap;transform:scaleX(0.965);transform-origin:0 0;">Hut met belemmerd zicht</div><div style="position:absolute;left:582.00px;top:466.70px;font-size:16px;line-height:18px;color:#1c1c1c;white-space:nowrap;transform:scaleX(0.979);transform-origin:0 0;">Bedden kunnen samengevoegd worden</div><div style="position:absolute;left:583.30px;top:501.70px;font-size:16px;line-height:18px;color:#1c1c1c;white-space:nowrap;transform:scaleX(0.965);transform-origin:0 0;">Bedden kunnen niet uit elkaar</div><div style="position:absolute;left:588.00px;top:536.70px;font-size:16px;line-height:18px;color:#1c1c1c;white-space:nowrap;transform:scaleX(0.965);transform-origin:0 0;">Trappenhuis</div>
<svg style="position:absolute;left:525px;top:210px" width="32" height="30" viewBox="0 0 32 30"><circle cx="11.8" cy="8.8" r="2.9" fill="#2a2222"/><path d="M11.8,11.5 L11.8,19.4 L20.6,19.4 L23.6,23.6 L27.6,21.8" fill="none" stroke="#2a2222" stroke-width="2.3" stroke-linejoin="round" stroke-linecap="round"/><path d="M11.8,15.0 L18.8,15.0" stroke="#2a2222" stroke-width="1.9" stroke-linecap="round"/><path d="M9.3,16.4 A5.9,5.9 0 1 0 19.6,23.6" fill="none" stroke="#2a2222" stroke-width="2.2" stroke-linecap="round"/></svg><div style="position:absolute;left:532.5px;top:247.3px;width:4.5px;height:23px;background:#2a2020"></div><svg style="position:absolute;left:530px;top:281px" width="20" height="20" viewBox="0 0 20 20"><rect x="3.4" y="3.4" width="13.8" height="12.4" fill="#eeeef4" stroke="#333" stroke-width="1.8"/></svg><div style="position:absolute;left:532.5px;top:314.9px;width:15.6px;height:14px;background:#2a1e1a"></div><svg style="position:absolute;left:532px;top:346px" width="17" height="15" viewBox="0 0 17 15"><path d="M8.4,0.6 L16.1,13.8 L1.2,13.8 Z" fill="#8a3545"/></svg><div style="position:absolute;left:532.5px;top:377.9px;width:15.6px;height:14.4px;border-radius:50%;background:#2a1e1a"></div><svg style="position:absolute;left:531px;top:407px" width="18" height="17" viewBox="0 0 18 17"><path d="M2.2,8.1 L15.4,8.1 M8.5,2 L8.5,14.7" stroke="#2a2020" stroke-width="3.1"/></svg><svg style="position:absolute;left:531px;top:438px" width="19" height="17" viewBox="0 0 19 17"><path d="M3.6,2.6 Q5,1.2 6.6,2.4 L9,4.9 L11.4,2.4 Q13,1.2 14.4,2.6 Q15.8,4.2 14.4,5.6 L12,8.3 L14.4,11 Q15.8,12.4 14.4,14 Q13,15.4 11.4,14.2 L9,11.7 L6.6,14.2 Q5,15.4 3.6,14 Q2.2,12.4 3.6,11 L6,8.3 L3.6,5.6 Q2.2,4.2 3.6,2.6 Z" fill="#fff" stroke="#333" stroke-width="1.7"/></svg><svg style="position:absolute;left:530px;top:468px" width="20" height="20" viewBox="0 0 20 20"><rect x="3.9" y="3.5" width="12.8" height="11.4" fill="#fff" stroke="#d04050" stroke-width="2.8"/></svg><div style="position:absolute;left:532.3px;top:502.1px;width:15.8px;height:14.3px;background:#e02838"></div><div style="position:absolute;left:530.2px;top:535.3px;width:20.8px;height:20.4px;border:1.2px solid #1a1a2a;background:#fff;font-size:14px;font-weight:bold;line-height:21px;text-align:center;color:#2a3550">A</div><div style="position:absolute;left:558.4px;top:535.3px;width:20.8px;height:20.4px;border:1.2px solid #1a1a2a;background:#fff;font-size:14px;font-weight:bold;line-height:21px;text-align:center;color:#2a3550">B</div><div style="position:absolute;left:651.2px;top:268.8px;width:1.2px;height:1.2px;background:#555"></div><div style="position:absolute;left:653.2px;top:281.2px;width:3px;height:1.1px;background:#333"></div><div style="position:absolute;left:596.8px;top:499.8px;width:1.4px;height:1.4px;background:#444"></div>
</body></html>
